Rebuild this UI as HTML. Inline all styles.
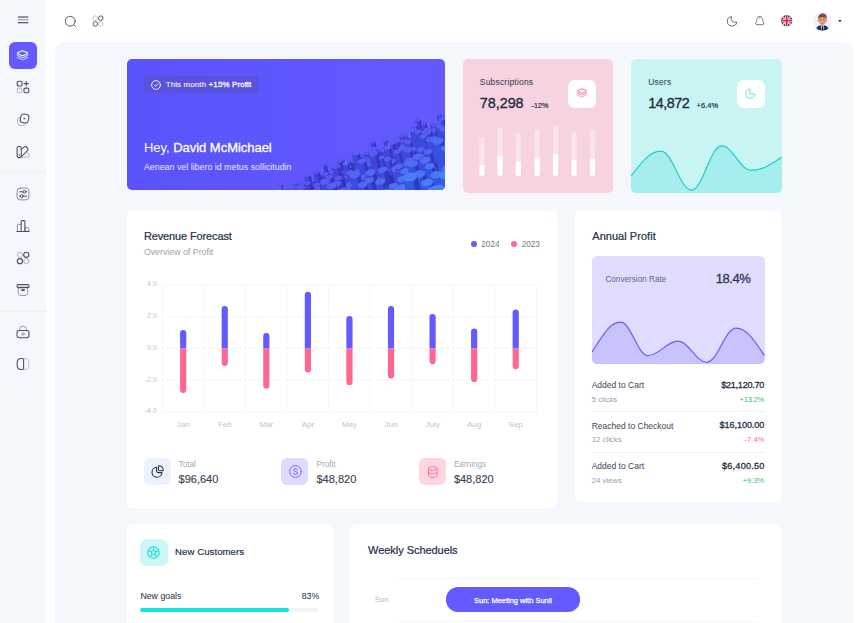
<!DOCTYPE html>
<html lang="en"><head><meta charset="utf-8"><title>Dashboard</title>
<style>
*{box-sizing:border-box;margin:0;padding:0}
html,body{width:862px;height:623px;overflow:hidden;background:#fff}
body{font-family:"Liberation Sans",sans-serif;color:#1d2738;position:relative}
.abs,.t{position:absolute}
.t{white-space:nowrap;line-height:1}
svg{position:absolute;overflow:visible}
.sidebar{position:absolute;left:0;top:0;width:45.700px;height:623px;background:#f4f7fb}
.sidebar .div{position:absolute;left:0;width:45.700px;height:1px;background:#ecf0f6}
.navbtn{position:absolute;left:9.2px;width:27.5px;height:27.4px;border-radius:6px}
.navbtn.active{background:#635bff}
.header{position:absolute;left:46px;top:0;width:816px;height:42px;background:#fff}
.wrap{position:absolute;left:54.700px;top:41.600px;width:798.300px;height:600px;background:#f4f7fb;border-radius:10px 10px 0 0}
.card{position:absolute;background:#fff;border-radius:5px;overflow:hidden}
.ibox{position:absolute;width:27.5px;height:27.5px;border-radius:6.5px}
.b{-webkit-text-stroke:.32px currentColor}
.g{color:#8b97a6}
</style></head><body>
<div class="sidebar"><svg style="left:18px;top:15.5px" width="10" height="8" viewBox="0 0 10 8" stroke="#2a3444" stroke-width="1.05" stroke-linecap="round"><path d="M0.3 .9H9.9M0.3 6.7H9.9"/><path d="M0.3 3.800H9.900" opacity=".55"/></svg><div class="navbtn active" style="top:41.600px"></div><svg style="left:16.200px;top:49.800px" width="13" height="11" viewBox="0 0 13 11" fill="none" stroke="#fff" stroke-width="1.05" stroke-linejoin="round" stroke-linecap="round"><path d="M5.600 1.100Q6.500 .7 7.400 1.100L11.300 2.800Q12.200 3.300 11.300 3.800L7.400 5.500Q6.500 5.900 5.600 5.500L1.700 3.800Q.8 3.300 1.700 2.800Z"/><path d="M1.200 5.400L5.600 7.500Q6.500 7.900 7.400 7.500L11.800 5.400" opacity=".8"/><path d="M1.200 7.500L5.600 9.600Q6.500 10 7.400 9.600L11.800 7.500" opacity=".65"/></svg><svg style="left:16px;top:80.1px" width="14" height="14" viewBox="0 0 14 14" fill="none" stroke="#46505e" stroke-width="1.05" stroke-linecap="round" stroke-linejoin="round"><rect x="1.2" y="1.2" width="4.8" height="4.8" rx="1.3" stroke-width="1.1"/><path d="M10.2 1.4v4.4M8 3.6h4.4" stroke-width="1.05"/><rect x="1.2" y="8.2" width="4.6" height="4.4" rx=".8" stroke="#a9b1bc" stroke-width=".9"/><rect x="8" y="8.1" width="4.8" height="4.6" rx="1.2" stroke-width="1.1"/></svg><svg style="left:16px;top:113.2px" width="14" height="14" viewBox="0 0 14 14" fill="none" stroke="#46505e" stroke-width="1.05" stroke-linecap="round" stroke-linejoin="round"><rect x="1.6" y="4.2" width="8.2" height="8.2" rx="2.8" transform="rotate(-18 5.7 8.3)" stroke="#a9b1bc" stroke-width=".9"/><rect x="4.6" y="1.2" width="8" height="8.6" rx="2.6" transform="rotate(12 8.6 5.5)" fill="#f4f7fb" stroke-width="1.05"/><path d="M7.6 4.3l2.4 1.3-2.4 1.4z" fill="#6b7482" stroke="none"/></svg><svg style="left:16px;top:144.6px" width="14" height="14" viewBox="0 0 14 14" fill="none" stroke="#46505e" stroke-width="1.05" stroke-linecap="round" stroke-linejoin="round"><path d="M6.2 12.2h5.6a1.2 1.2 0 0 0 1.2-1.2V9a1.2 1.2 0 0 0-1.2-1.2h-1.2" stroke="#a9b1bc" stroke-width=".9"/><rect x="1.1" y="1.4" width="4.2" height="11.2" rx="1.8" stroke-width="1.05"/><path d="M5.3 4.2l3.2-2.4a1.5 1.5 0 0 1 2.1.3l1.1 1.5a1.5 1.5 0 0 1 .1 1.6L5.2 12" stroke-width="1.05"/><path d="M3.2 9.6v1" stroke-width="1"/></svg><div class="div" style="top:171.5px"></div><svg style="left:16px;top:186.5px" width="14" height="14" viewBox="0 0 14 14" fill="none" stroke="#46505e" stroke-width="1.05" stroke-linecap="round" stroke-linejoin="round"><rect x="1.1" y="1.1" width="11.8" height="11.8" rx="3.2" stroke="#7e8793" stroke-width=".95"/><path d="M3.6 4.8h3.2M10 4.8h.6M3.6 9.2h.6M7.4 9.2h3.2" stroke-width="1"/><circle cx="8.4" cy="4.8" r="1.4" stroke-width="1"/><circle cx="5.8" cy="9.2" r="1.4" stroke-width="1"/></svg><svg style="left:16px;top:218.6px" width="14" height="14" viewBox="0 0 14 14" fill="none" stroke="#46505e" stroke-width="1.05" stroke-linecap="round" stroke-linejoin="round"><path d="M1.4 12.4V6.2a.8.8 0 0 1 .8-.8h2.9M9 12.4V8.6h2.9a.8.8 0 0 1 .8.8v3" stroke="#7e8793" stroke-width=".9"/><path d="M5.2 12.4V2.6a1 1 0 0 1 1-1h1.7a1 1 0 0 1 1 1v9.800" stroke-width="1.05"/><path d="M.9 12.5h12.3" stroke-width="1.05"/></svg><svg style="left:16px;top:250.9px" width="14" height="14" viewBox="0 0 14 14" fill="none" stroke="#46505e" stroke-width="1.05" stroke-linecap="round" stroke-linejoin="round"><circle cx="3.9" cy="3.8" r="2.6" stroke="#a9b1bc" stroke-width=".9"/><circle cx="10.3" cy="3.8" r="2.6" stroke-width="1.1"/><circle cx="3.9" cy="10.2" r="2.6" stroke-width="1.1"/><circle cx="10.3" cy="10.2" r="2.6" stroke="#a9b1bc" stroke-width=".9"/></svg><svg style="left:16px;top:282.8px" width="14" height="14" viewBox="0 0 14 14" fill="none" stroke="#46505e" stroke-width="1.05" stroke-linecap="round" stroke-linejoin="round"><path d="M2.3 4.6v5.2c0 1.700 1 2.700 2.700 2.700h4c1.700 0 2.700-1 2.700-2.700V4.600" stroke="#8a939f" stroke-width=".9"/><rect x="1" y="1.500" width="12" height="3.100" rx="1.200" stroke-width="1.05" fill="#cdd3db"/><rect x="5.2" y="6.300" width="3.600" height="1.700" rx=".5" fill="#46505e" stroke="none"/></svg><div class="div" style="top:310.700px"></div><svg style="left:16px;top:324.6px" width="14" height="14" viewBox="0 0 14 14" fill="none" stroke="#46505e" stroke-width="1.05" stroke-linecap="round" stroke-linejoin="round"><path d="M3.500 5.500V4.600a3.500 3.500 0 0 1 7 0v.9" stroke="#8a939f" stroke-width=".9"/><rect x="1" y="5.500" width="12" height="7.300" rx="2.200" stroke-width="1.05"/><ellipse cx="7" cy="9.100" rx="1.500" ry="1" stroke="#8a939f" stroke-width=".9"/></svg><svg style="left:16px;top:356.7px" width="14" height="14" viewBox="0 0 14 14" fill="none" stroke="#46505e" stroke-width="1.05" stroke-linecap="round" stroke-linejoin="round"><path d="M7.600 1.500H5.200C2.600 1.500 1.200 2.900 1.200 5.500v3c0 2.600 1.400 4 4 4h2.400z" stroke-width="1.05"/><path d="M7.600 1.500h1.200c2.600 0 4 1.400 4 4v3c0 2.600-1.400 4-4 4H7.600" stroke="#a9b1bc" stroke-width=".9" stroke-dasharray="1.600 1.300"/></svg></div>
<div class="header"><svg style="left:18px;top:14.500px" width="13" height="13" viewBox="0 0 13 13" fill="none" stroke="#545e6d" stroke-width="1" stroke-linecap="round"><circle cx="6.200" cy="6.200" r="4.900"/><path d="M9.800 9.700l1.700 1.600"/></svg><svg style="left:46px;top:14.700px" width="12" height="12" viewBox="0 0 12 12" fill="none" stroke="#545e6d" stroke-width="1"><circle cx="3.300" cy="3.200" r="2.300" stroke="#b4bbc5" stroke-width=".8"/><circle cx="8.800" cy="3.200" r="2.300"/><circle cx="3.300" cy="8.900" r="2.300"/><circle cx="8.800" cy="8.900" r="2.300" stroke="#b4bbc5" stroke-width=".8"/></svg><svg style="left:680.600px;top:15.800px" width="10.500" height="10.500" viewBox="0 0 11 11" fill="none" stroke="#545e6d" stroke-width=".95" stroke-linejoin="round"><path d="M10.300 6.300A4.300 4.300 0 0 1 4.600 .600 5 5 0 1 0 10.300 6.300Z"/></svg><svg style="left:708.800px;top:15.700px" width="10" height="10" viewBox="0 0 11 11" fill="none" stroke="#545e6d" stroke-width=".95" stroke-linejoin="round" stroke-linecap="round"><path d="M5.300 .600C3.100 .600 2 2.300 2 4.100 2 6 1.500 6.700 .9 7.600c-.5 .8 .2 1.700 1.300 1.800 2.100 .300 4.100 .300 6.200 0 1.100-.100 1.800-1 1.300-1.800C9.100 6.700 8.600 6 8.600 4.100 8.600 2.300 7.500 .600 5.300 .600Z"/><path d="M5.300 2.700v.5" stroke-width=".6"/></svg><svg style="left:735.200px;top:15px" width="11.400" height="11.400" viewBox="0 0 12 12"><defs><clipPath id="fc"><circle cx="6" cy="6" r="6"/></clipPath></defs><g clip-path="url(#fc)"><rect width="12" height="12" fill="#1f2a8a"/><path d="M0 0l12 12M12 0L0 12" stroke="#fff" stroke-width="1.700"/><path d="M0 0l12 12M12 0L0 12" stroke="#e8243c" stroke-width=".6"/><path d="M6 0v12M0 6h12" stroke="#fff" stroke-width="3.200"/><path d="M6 0v12M0 6h12" stroke="#e8243c" stroke-width="1.900"/></g></svg><svg style="left:767.200px;top:11.700px" width="18.800" height="18.800" viewBox="0 0 19 19"><defs><clipPath id="ac"><circle cx="9.500" cy="9.500" r="9.500"/></clipPath></defs><circle cx="9.500" cy="9.500" r="9.500" fill="#f1f0ff"/><g clip-path="url(#ac)"><path d="M2.800 19c0-3.600 2.600-5.600 6.700-5.600s6.700 2 6.700 5.600z" fill="#22306e"/><path d="M8 13.200h3l-.5 5.800h-2z" fill="#e9edf7"/><path d="M9.100 14h.9l.5 5h-1.900z" fill="#1a2048"/><rect x="8.100" y="10.500" width="2.800" height="3.600" rx="1" fill="#d4906c"/><ellipse cx="9.500" cy="8.400" rx="3.900" ry="4.500" fill="#e3a47e"/><ellipse cx="5.500" cy="8.800" rx=".8" ry="1.200" fill="#dd9a74"/><ellipse cx="13.500" cy="8.800" rx=".8" ry="1.200" fill="#dd9a74"/><path d="M5.300 7.800C4.800 3.800 6.800 1.600 9.700 1.600s4.700 2 4.100 6.200c-.5-1.800-1.400-2.600-4.200-2.600S6 6 5.300 7.800z" fill="#80493b"/><path d="M8.500 11.300c.7 .4 1.400 .4 2 0" stroke="#8a3f3a" stroke-width=".6" fill="none"/><circle cx="7.900" cy="8.500" r=".45" fill="#3a2a2a"/><circle cx="11.100" cy="8.500" r=".45" fill="#3a2a2a"/><path d="M7.100 7.500h1.600M10.300 7.500h1.600" stroke="#5c3a30" stroke-width=".5"/></g></svg><svg style="left:792.300px;top:19.500px" width="3.800" height="2.300" viewBox="0 0 4 2.400"><path d="M0 0h4L2 2.400z" fill="#39424f"/></svg></div>
<div class="wrap"><div class="card" style="left:71.9px;top:17.0px;width:318.5px;height:131.0px;background:linear-gradient(90deg,#5a53fb,#6359ff)"><svg style="left:-.5px;top:.4px" width="319" height="131" viewBox="0 0 319 131"><defs><linearGradient id="hb" x1="0" y1="0" x2="1" y2="1"><stop offset="0" stop-color="#3f38cc"/><stop offset="1" stop-color="#2530a0"/></linearGradient></defs><path d="M166 131L319 63V131Z" fill="url(#hb)"/><g transform="translate(153.9 126.0) rotate(-12)"><path d="M-2.6 0v10.4a2.6 1.5 0 0 0 5.3 0v-10.4z" fill="#4740db"/><path d="M0.8 0v11.8a2.6 1.5 0 0 0 1.8 -1.4v-10.4z" fill="#342ab2" opacity=".62"/><ellipse cx="0" cy="0" rx="2.6" ry="1.5" fill="#5a54ee"/></g><g transform="translate(160.6 130.7) rotate(-12)"><path d="M-2.4 0v4.5a2.4 1.4 0 0 0 4.8 0v-4.5z" fill="#4541db"/><path d="M0.8 0v5.8a2.4 1.4 0 0 0 1.6 -1.3v-4.5z" fill="#322ab0" opacity=".62"/><ellipse cx="0" cy="0" rx="2.4" ry="1.4" fill="#5956ee"/></g><g transform="translate(169.8 123.9) rotate(-12)"><path d="M-2.9 0v7.1a2.9 1.7 0 0 0 5.8 0v-7.1z" fill="#4640db"/><path d="M0.9 0v8.6a2.9 1.7 0 0 0 2.0 -1.5v-7.1z" fill="#332ab1" opacity=".62"/><ellipse cx="0" cy="0" rx="2.9" ry="1.7" fill="#5955ee"/></g><g transform="translate(174.7 123.5) rotate(-12)"><path d="M-2.4 0v5.0a2.4 1.4 0 0 0 4.9 0v-5.0z" fill="#4442dc"/><path d="M0.8 0v6.3a2.4 1.4 0 0 0 1.7 -1.3v-5.0z" fill="#322aaf" opacity=".62"/><ellipse cx="0" cy="0" rx="2.4" ry="1.4" fill="#5858ee"/></g><g transform="translate(182.1 119.3) rotate(-12)"><path d="M-2.8 0v4.4a2.8 1.6 0 0 0 5.5 0v-4.4z" fill="#4442dc"/><path d="M0.9 0v5.9a2.8 1.6 0 0 0 1.9 -1.5v-4.4z" fill="#312aaf" opacity=".62"/><ellipse cx="0" cy="0" rx="2.8" ry="1.6" fill="#5858ef"/></g><g transform="translate(190.9 116.7) rotate(-12)"><path d="M-2.9 0v4.7a2.9 1.7 0 0 0 5.8 0v-4.7z" fill="#4640db"/><path d="M0.9 0v6.3a2.9 1.7 0 0 0 2.0 -1.5v-4.7z" fill="#332ab1" opacity=".62"/><ellipse cx="0" cy="0" rx="2.9" ry="1.7" fill="#5954ee"/></g><g transform="translate(198.2 106.0) rotate(-12)"><path d="M-2.6 0v12.0a2.6 1.5 0 0 0 5.2 0v-12.0z" fill="#4640db"/><path d="M0.8 0v13.4a2.6 1.5 0 0 0 1.8 -1.4v-12.0z" fill="#332ab1" opacity=".62"/><ellipse cx="0" cy="0" rx="2.6" ry="1.5" fill="#5954ee"/></g><g transform="translate(207.8 107.6) rotate(-12)"><path d="M-3.0 0v7.3a3.0 1.7 0 0 0 5.9 0v-7.3z" fill="#4541db"/><path d="M1.0 0v8.9a3.0 1.7 0 0 0 2.0 -1.6v-7.3z" fill="#322ab0" opacity=".62"/><ellipse cx="0" cy="0" rx="3.0" ry="1.7" fill="#5956ee"/></g><g transform="translate(213.5 105.4) rotate(-12)"><path d="M-2.4 0v5.3a2.4 1.4 0 0 0 4.9 0v-5.3z" fill="#4640db"/><path d="M0.8 0v6.6a2.4 1.4 0 0 0 1.7 -1.3v-5.3z" fill="#332ab1" opacity=".62"/><ellipse cx="0" cy="0" rx="2.4" ry="1.4" fill="#5955ee"/></g><g transform="translate(222.2 103.0) rotate(-12)"><path d="M-2.7 0v5.6a2.7 1.6 0 0 0 5.4 0v-5.6z" fill="#4442dc"/><path d="M0.9 0v7.1a2.7 1.6 0 0 0 1.8 -1.4v-5.6z" fill="#322aaf" opacity=".62"/><ellipse cx="0" cy="0" rx="2.7" ry="1.6" fill="#5858ee"/></g><g transform="translate(232.0 97.5) rotate(-12)"><path d="M-2.6 0v4.4a2.6 1.5 0 0 0 5.1 0v-4.4z" fill="#4640db"/><path d="M0.8 0v5.7a2.6 1.5 0 0 0 1.7 -1.4v-4.4z" fill="#332ab1" opacity=".62"/><ellipse cx="0" cy="0" rx="2.6" ry="1.5" fill="#5954ee"/></g><g transform="translate(240.0 94.5) rotate(-12)"><path d="M-2.7 0v6.7a2.7 1.6 0 0 0 5.4 0v-6.7z" fill="#4640db"/><path d="M0.9 0v8.2a2.7 1.6 0 0 0 1.8 -1.4v-6.7z" fill="#332ab1" opacity=".62"/><ellipse cx="0" cy="0" rx="2.7" ry="1.6" fill="#5954ee"/></g><g transform="translate(246.9 83.2) rotate(-12)"><path d="M-2.6 0v14.5a2.6 1.5 0 0 0 5.2 0v-14.5z" fill="#4640db"/><path d="M0.8 0v15.8a2.6 1.5 0 0 0 1.8 -1.4v-14.5z" fill="#332ab1" opacity=".62"/><ellipse cx="0" cy="0" rx="2.6" ry="1.5" fill="#5955ee"/></g><g transform="translate(253.0 90.2) rotate(-12)"><path d="M-3.0 0v5.3a3.0 1.8 0 0 0 6.0 0v-5.3z" fill="#4442dc"/><path d="M1.0 0v6.9a3.0 1.8 0 0 0 2.1 -1.6v-5.3z" fill="#322aaf" opacity=".62"/><ellipse cx="0" cy="0" rx="3.0" ry="1.8" fill="#5858ee"/></g><g transform="translate(259.5 81.5) rotate(-12)"><path d="M-2.4 0v8.5a2.4 1.4 0 0 0 4.9 0v-8.5z" fill="#4541db"/><path d="M0.8 0v9.8a2.4 1.4 0 0 0 1.7 -1.3v-8.5z" fill="#332ab0" opacity=".62"/><ellipse cx="0" cy="0" rx="2.4" ry="1.4" fill="#5956ee"/></g><g transform="translate(267.8 83.4) rotate(-12)"><path d="M-2.8 0v4.4a2.8 1.6 0 0 0 5.5 0v-4.4z" fill="#4541db"/><path d="M0.9 0v5.9a2.8 1.6 0 0 0 1.9 -1.5v-4.4z" fill="#332ab0" opacity=".62"/><ellipse cx="0" cy="0" rx="2.8" ry="1.6" fill="#5956ee"/></g><g transform="translate(275.9 76.5) rotate(-12)"><path d="M-2.9 0v6.5a2.9 1.7 0 0 0 5.8 0v-6.5z" fill="#4640db"/><path d="M0.9 0v8.0a2.9 1.7 0 0 0 2.0 -1.5v-6.5z" fill="#332ab1" opacity=".62"/><ellipse cx="0" cy="0" rx="2.9" ry="1.7" fill="#5955ee"/></g><g transform="translate(282.0 75.6) rotate(-12)"><path d="M-2.6 0v4.9a2.6 1.5 0 0 0 5.2 0v-4.9z" fill="#4343dc"/><path d="M0.8 0v6.3a2.6 1.5 0 0 0 1.8 -1.4v-4.9z" fill="#312aae" opacity=".62"/><ellipse cx="0" cy="0" rx="2.6" ry="1.5" fill="#575aef"/></g><g transform="translate(291.6 60.6) rotate(-12)"><path d="M-3.1 0v16.0a3.1 1.8 0 0 0 6.2 0v-16.0z" fill="#4541db"/><path d="M1.0 0v17.6a3.1 1.8 0 0 0 2.1 -1.7v-16.0z" fill="#322ab0" opacity=".62"/><ellipse cx="0" cy="0" rx="3.1" ry="1.8" fill="#5856ee"/></g><g transform="translate(297.8 64.8) rotate(-12)"><path d="M-2.9 0v10.8a2.9 1.7 0 0 0 5.8 0v-10.8z" fill="#4541db"/><path d="M0.9 0v12.3a2.9 1.7 0 0 0 2.0 -1.5v-10.8z" fill="#322ab0" opacity=".62"/><ellipse cx="0" cy="0" rx="2.9" ry="1.7" fill="#5856ee"/></g><g transform="translate(305.7 64.9) rotate(-12)"><path d="M-2.6 0v5.2a2.6 1.5 0 0 0 5.2 0v-5.2z" fill="#4344dd"/><path d="M0.8 0v6.6a2.6 1.5 0 0 0 1.8 -1.4v-5.2z" fill="#302aae" opacity=".62"/><ellipse cx="0" cy="0" rx="2.6" ry="1.5" fill="#575aef"/></g><g transform="translate(312.7 55.8) rotate(-12)"><path d="M-2.4 0v11.5a2.4 1.4 0 0 0 4.9 0v-11.5z" fill="#4541db"/><path d="M0.8 0v12.8a2.4 1.4 0 0 0 1.7 -1.3v-11.5z" fill="#322ab0" opacity=".62"/><ellipse cx="0" cy="0" rx="2.4" ry="1.4" fill="#5857ee"/></g><g transform="translate(319.9 56.3) rotate(-12)"><path d="M-2.9 0v7.7a2.9 1.7 0 0 0 5.8 0v-7.7z" fill="#4541db"/><path d="M0.9 0v9.3a2.9 1.7 0 0 0 2.0 -1.5v-7.7z" fill="#322ab0" opacity=".62"/><ellipse cx="0" cy="0" rx="2.9" ry="1.7" fill="#5857ee"/></g><g transform="translate(327.0 58.0) rotate(-12)"><path d="M-2.8 0v5.1a2.8 1.6 0 0 0 5.6 0v-5.1z" fill="#4640db"/><path d="M0.9 0v6.6a2.8 1.6 0 0 0 1.9 -1.5v-5.1z" fill="#332ab1" opacity=".62"/><ellipse cx="0" cy="0" rx="2.8" ry="1.6" fill="#5955ee"/></g><g transform="translate(335.7 49.3) rotate(-12)"><path d="M-2.5 0v7.6a2.5 1.5 0 0 0 5.0 0v-7.6z" fill="#4640db"/><path d="M0.8 0v8.9a2.5 1.5 0 0 0 1.7 -1.3v-7.6z" fill="#332ab1" opacity=".62"/><ellipse cx="0" cy="0" rx="2.5" ry="1.5" fill="#5955ee"/></g><g transform="translate(344.4 47.4) rotate(-12)"><path d="M-2.5 0v5.9a2.5 1.5 0 0 0 5.1 0v-5.9z" fill="#4640db"/><path d="M0.8 0v7.2a2.5 1.5 0 0 0 1.7 -1.3v-5.9z" fill="#332ab1" opacity=".62"/><ellipse cx="0" cy="0" rx="2.5" ry="1.5" fill="#5955ee"/></g><g transform="translate(158.0 134.7) rotate(-12)"><path d="M-2.8 0v5.3a2.8 1.6 0 0 0 5.5 0v-5.3z" fill="#4740db"/><path d="M0.9 0v6.8a2.8 1.6 0 0 0 1.9 -1.5v-5.3z" fill="#342ab2" opacity=".62"/><ellipse cx="0" cy="0" rx="2.8" ry="1.6" fill="#5a54ee"/></g><g transform="translate(167.8 128.6) rotate(-12)"><path d="M-2.7 0v5.9a2.7 1.6 0 0 0 5.4 0v-5.9z" fill="#4541db"/><path d="M0.9 0v7.3a2.7 1.6 0 0 0 1.8 -1.4v-5.9z" fill="#322ab0" opacity=".62"/><ellipse cx="0" cy="0" rx="2.7" ry="1.6" fill="#5857ee"/></g><g transform="translate(175.6 125.0) rotate(-12)"><path d="M-3.0 0v5.9a3.0 1.8 0 0 0 6.1 0v-5.9z" fill="#4442dc"/><path d="M1.0 0v7.5a3.0 1.8 0 0 0 2.1 -1.6v-5.9z" fill="#312aaf" opacity=".62"/><ellipse cx="0" cy="0" rx="3.0" ry="1.8" fill="#5858ef"/></g><g transform="translate(185.8 121.2) rotate(-12)"><path d="M-3.4 0v5.4a3.4 2.0 0 0 0 6.7 0v-5.4z" fill="#4640db"/><path d="M1.1 0v7.2a3.4 2.0 0 0 0 2.3 -1.8v-5.4z" fill="#332ab1" opacity=".62"/><ellipse cx="0" cy="0" rx="3.4" ry="2.0" fill="#5955ee"/></g><g transform="translate(192.0 115.4) rotate(-12)"><path d="M-2.9 0v8.5a2.9 1.7 0 0 0 5.9 0v-8.5z" fill="#4740db"/><path d="M0.9 0v10.0a2.9 1.7 0 0 0 2.0 -1.6v-8.5z" fill="#342ab2" opacity=".62"/><ellipse cx="0" cy="0" rx="2.9" ry="1.7" fill="#5a54ee"/></g><g transform="translate(199.4 114.9) rotate(-12)"><path d="M-3.0 0v6.0a3.0 1.8 0 0 0 6.1 0v-6.0z" fill="#4442dc"/><path d="M1.0 0v7.6a3.0 1.8 0 0 0 2.1 -1.6v-6.0z" fill="#312aaf" opacity=".62"/><ellipse cx="0" cy="0" rx="3.0" ry="1.8" fill="#5858ef"/></g><g transform="translate(206.9 113.0) rotate(-12)"><path d="M-3.4 0v6.1a3.4 2.0 0 0 0 6.8 0v-6.1z" fill="#4442dc"/><path d="M1.1 0v7.9a3.4 2.0 0 0 0 2.3 -1.8v-6.1z" fill="#322aaf" opacity=".62"/><ellipse cx="0" cy="0" rx="3.4" ry="2.0" fill="#5858ee"/></g><g transform="translate(216.2 100.2) rotate(-12)"><path d="M-2.7 0v14.0a2.7 1.6 0 0 0 5.3 0v-14.0z" fill="#4442dc"/><path d="M0.9 0v15.4a2.7 1.6 0 0 0 1.8 -1.4v-14.0z" fill="#312aaf" opacity=".62"/><ellipse cx="0" cy="0" rx="2.7" ry="1.6" fill="#5858ef"/></g><g transform="translate(221.8 102.5) rotate(-12)"><path d="M-3.2 0v10.1a3.2 1.9 0 0 0 6.3 0v-10.1z" fill="#4343dc"/><path d="M1.0 0v11.8a3.2 1.9 0 0 0 2.2 -1.7v-10.1z" fill="#312aaf" opacity=".62"/><ellipse cx="0" cy="0" rx="3.2" ry="1.9" fill="#5759ef"/></g><g transform="translate(231.3 101.1) rotate(-12)"><path d="M-3.0 0v6.6a3.0 1.7 0 0 0 5.9 0v-6.6z" fill="#4640db"/><path d="M0.9 0v8.1a3.0 1.7 0 0 0 2.0 -1.6v-6.6z" fill="#332ab1" opacity=".62"/><ellipse cx="0" cy="0" rx="3.0" ry="1.7" fill="#5954ee"/></g><g transform="translate(240.7 99.4) rotate(-12)"><path d="M-2.6 0v5.3a2.6 1.5 0 0 0 5.2 0v-5.3z" fill="#4640db"/><path d="M0.8 0v6.7a2.6 1.5 0 0 0 1.8 -1.4v-5.3z" fill="#332ab1" opacity=".62"/><ellipse cx="0" cy="0" rx="2.6" ry="1.5" fill="#5954ee"/></g><g transform="translate(249.9 94.9) rotate(-12)"><path d="M-3.2 0v5.4a3.2 1.9 0 0 0 6.4 0v-5.4z" fill="#4442dc"/><path d="M1.0 0v7.1a3.2 1.9 0 0 0 2.2 -1.7v-5.4z" fill="#322aaf" opacity=".62"/><ellipse cx="0" cy="0" rx="3.2" ry="1.9" fill="#5858ee"/></g><g transform="translate(258.8 91.6) rotate(-12)"><path d="M-2.9 0v4.9a2.9 1.7 0 0 0 5.7 0v-4.9z" fill="#4542dc"/><path d="M0.9 0v6.4a2.9 1.7 0 0 0 1.9 -1.5v-4.9z" fill="#322ab0" opacity=".62"/><ellipse cx="0" cy="0" rx="2.9" ry="1.7" fill="#5857ee"/></g><g transform="translate(267.7 87.7) rotate(-12)"><path d="M-2.9 0v4.8a2.9 1.7 0 0 0 5.8 0v-4.8z" fill="#4343dc"/><path d="M0.9 0v6.3a2.9 1.7 0 0 0 2.0 -1.5v-4.8z" fill="#312aaf" opacity=".62"/><ellipse cx="0" cy="0" rx="2.9" ry="1.7" fill="#5759ef"/></g><g transform="translate(276.6 82.4) rotate(-12)"><path d="M-3.1 0v5.2a3.1 1.8 0 0 0 6.2 0v-5.2z" fill="#4542dc"/><path d="M1.0 0v6.9a3.1 1.8 0 0 0 2.1 -1.6v-5.2z" fill="#322ab0" opacity=".62"/><ellipse cx="0" cy="0" rx="3.1" ry="1.8" fill="#5857ee"/></g><g transform="translate(283.9 77.2) rotate(-12)"><path d="M-2.6 0v7.4a2.6 1.5 0 0 0 5.2 0v-7.4z" fill="#4443dc"/><path d="M0.8 0v8.7a2.6 1.5 0 0 0 1.8 -1.4v-7.4z" fill="#312aaf" opacity=".62"/><ellipse cx="0" cy="0" rx="2.6" ry="1.5" fill="#5759ef"/></g><g transform="translate(293.3 74.2) rotate(-12)"><path d="M-3.2 0v7.1a3.2 1.9 0 0 0 6.4 0v-7.1z" fill="#4343dc"/><path d="M1.0 0v8.7a3.2 1.9 0 0 0 2.2 -1.7v-7.1z" fill="#302aae" opacity=".62"/><ellipse cx="0" cy="0" rx="3.2" ry="1.9" fill="#575aef"/></g><g transform="translate(300.7 70.5) rotate(-12)"><path d="M-2.9 0v6.6a2.9 1.7 0 0 0 5.9 0v-6.6z" fill="#4442dc"/><path d="M0.9 0v8.2a2.9 1.7 0 0 0 2.0 -1.6v-6.6z" fill="#312aaf" opacity=".62"/><ellipse cx="0" cy="0" rx="2.9" ry="1.7" fill="#5858ef"/></g><g transform="translate(308.5 66.6) rotate(-12)"><path d="M-2.6 0v7.6a2.6 1.5 0 0 0 5.1 0v-7.6z" fill="#4541db"/><path d="M0.8 0v9.0a2.6 1.5 0 0 0 1.7 -1.4v-7.6z" fill="#322ab0" opacity=".62"/><ellipse cx="0" cy="0" rx="2.6" ry="1.5" fill="#5856ee"/></g><g transform="translate(317.8 62.7) rotate(-12)"><path d="M-3.2 0v5.9a3.2 1.9 0 0 0 6.3 0v-5.9z" fill="#4343dc"/><path d="M1.0 0v7.5a3.2 1.9 0 0 0 2.1 -1.7v-5.9z" fill="#312aaf" opacity=".62"/><ellipse cx="0" cy="0" rx="3.2" ry="1.9" fill="#5759ef"/></g><g transform="translate(326.3 53.7) rotate(-12)"><path d="M-2.8 0v13.2a2.8 1.6 0 0 0 5.5 0v-13.2z" fill="#4541db"/><path d="M0.9 0v14.7a2.8 1.6 0 0 0 1.9 -1.5v-13.2z" fill="#322ab0" opacity=".62"/><ellipse cx="0" cy="0" rx="2.8" ry="1.6" fill="#5856ee"/></g><g transform="translate(332.5 54.3) rotate(-12)"><path d="M-2.7 0v9.2a2.7 1.6 0 0 0 5.4 0v-9.2z" fill="#4344dd"/><path d="M0.9 0v10.6a2.7 1.6 0 0 0 1.8 -1.4v-9.2z" fill="#302aae" opacity=".62"/><ellipse cx="0" cy="0" rx="2.7" ry="1.6" fill="#575aef"/></g><g transform="translate(341.0 50.6) rotate(-12)"><path d="M-2.9 0v9.1a2.9 1.7 0 0 0 5.9 0v-9.1z" fill="#4442dc"/><path d="M0.9 0v10.7a2.9 1.7 0 0 0 2.0 -1.6v-9.1z" fill="#312aaf" opacity=".62"/><ellipse cx="0" cy="0" rx="2.9" ry="1.7" fill="#5858ef"/></g><g transform="translate(155.3 131.1) rotate(-12)"><path d="M-3.2 0v12.3a3.2 1.9 0 0 0 6.4 0v-12.3z" fill="#4442dc"/><path d="M1.0 0v14.0a3.2 1.9 0 0 0 2.2 -1.7v-12.3z" fill="#322aaf" opacity=".62"/><ellipse cx="0" cy="0" rx="3.2" ry="1.9" fill="#5858ee"/></g><g transform="translate(166.1 130.1) rotate(-12)"><path d="M-3.6 0v10.3a3.6 2.1 0 0 0 7.2 0v-10.3z" fill="#4542dc"/><path d="M1.2 0v12.2a3.6 2.1 0 0 0 2.5 -1.9v-10.3z" fill="#322ab0" opacity=".62"/><ellipse cx="0" cy="0" rx="3.6" ry="2.1" fill="#5857ee"/></g><g transform="translate(172.8 129.7) rotate(-12)"><path d="M-3.0 0v7.0a3.0 1.7 0 0 0 5.9 0v-7.0z" fill="#4541db"/><path d="M0.9 0v8.6a3.0 1.7 0 0 0 2.0 -1.6v-7.0z" fill="#322ab0" opacity=".62"/><ellipse cx="0" cy="0" rx="3.0" ry="1.7" fill="#5956ee"/></g><g transform="translate(181.3 116.4) rotate(-12)"><path d="M-3.2 0v17.1a3.2 1.9 0 0 0 6.4 0v-17.1z" fill="#4443dc"/><path d="M1.0 0v18.8a3.2 1.9 0 0 0 2.2 -1.7v-17.1z" fill="#312aaf" opacity=".62"/><ellipse cx="0" cy="0" rx="3.2" ry="1.9" fill="#5759ef"/></g><g transform="translate(190.3 113.1) rotate(-12)"><path d="M-3.1 0v17.5a3.1 1.8 0 0 0 6.3 0v-17.5z" fill="#4541db"/><path d="M1.0 0v19.2a3.1 1.8 0 0 0 2.1 -1.7v-17.5z" fill="#322ab0" opacity=".62"/><ellipse cx="0" cy="0" rx="3.1" ry="1.8" fill="#5856ee"/></g><g transform="translate(196.3 122.3) rotate(-12)"><path d="M-2.7 0v5.4a2.7 1.6 0 0 0 5.5 0v-5.4z" fill="#4640db"/><path d="M0.9 0v6.9a2.7 1.6 0 0 0 1.9 -1.5v-5.4z" fill="#332ab1" opacity=".62"/><ellipse cx="0" cy="0" rx="2.7" ry="1.6" fill="#5954ee"/></g><g transform="translate(206.7 112.9) rotate(-12)"><path d="M-3.5 0v8.5a3.5 2.0 0 0 0 6.9 0v-8.5z" fill="#4442dc"/><path d="M1.1 0v10.4a3.5 2.0 0 0 0 2.4 -1.8v-8.5z" fill="#322aaf" opacity=".62"/><ellipse cx="0" cy="0" rx="3.5" ry="2.0" fill="#5858ee"/></g><g transform="translate(213.2 102.6) rotate(-12)"><path d="M-2.7 0v16.5a2.7 1.6 0 0 0 5.5 0v-16.5z" fill="#4541db"/><path d="M0.9 0v17.9a2.7 1.6 0 0 0 1.9 -1.4v-16.5z" fill="#322ab0" opacity=".62"/><ellipse cx="0" cy="0" rx="2.7" ry="1.6" fill="#5857ee"/></g><g transform="translate(223.1 107.9) rotate(-12)"><path d="M-2.7 0v5.8a2.7 1.6 0 0 0 5.5 0v-5.8z" fill="#4541db"/><path d="M0.9 0v7.3a2.7 1.6 0 0 0 1.9 -1.5v-5.8z" fill="#322ab0" opacity=".62"/><ellipse cx="0" cy="0" rx="2.7" ry="1.6" fill="#5956ee"/></g><g transform="translate(232.6 97.2) rotate(-12)"><path d="M-3.3 0v13.9a3.3 2.0 0 0 0 6.7 0v-13.9z" fill="#4541db"/><path d="M1.1 0v15.7a3.3 2.0 0 0 0 2.3 -1.8v-13.9z" fill="#322ab0" opacity=".62"/><ellipse cx="0" cy="0" rx="3.3" ry="2.0" fill="#5857ee"/></g><g transform="translate(243.3 101.3) rotate(-12)"><path d="M-2.9 0v5.2a2.9 1.7 0 0 0 5.8 0v-5.2z" fill="#4542dc"/><path d="M0.9 0v6.7a2.9 1.7 0 0 0 2.0 -1.5v-5.2z" fill="#322ab0" opacity=".62"/><ellipse cx="0" cy="0" rx="2.9" ry="1.7" fill="#5857ee"/></g><g transform="translate(250.4 92.6) rotate(-12)"><path d="M-3.2 0v8.8a3.2 1.9 0 0 0 6.3 0v-8.8z" fill="#4343dc"/><path d="M1.0 0v10.5a3.2 1.9 0 0 0 2.1 -1.7v-8.8z" fill="#312aaf" opacity=".62"/><ellipse cx="0" cy="0" rx="3.2" ry="1.9" fill="#5759ef"/></g><g transform="translate(259.7 88.3) rotate(-12)"><path d="M-3.0 0v9.8a3.0 1.8 0 0 0 6.1 0v-9.8z" fill="#4442dc"/><path d="M1.0 0v11.4a3.0 1.8 0 0 0 2.1 -1.6v-9.8z" fill="#322aaf" opacity=".62"/><ellipse cx="0" cy="0" rx="3.0" ry="1.8" fill="#5858ee"/></g><g transform="translate(269.7 82.8) rotate(-12)"><path d="M-3.4 0v11.9a3.4 2.0 0 0 0 6.9 0v-11.9z" fill="#4344dd"/><path d="M1.1 0v13.7a3.4 2.0 0 0 0 2.3 -1.8v-11.9z" fill="#302bae" opacity=".62"/><ellipse cx="0" cy="0" rx="3.4" ry="2.0" fill="#565bef"/></g><g transform="translate(278.7 81.8) rotate(-12)"><path d="M-2.8 0v9.9a2.8 1.6 0 0 0 5.6 0v-9.9z" fill="#4344dd"/><path d="M0.9 0v11.4a2.8 1.6 0 0 0 1.9 -1.5v-9.9z" fill="#302bae" opacity=".62"/><ellipse cx="0" cy="0" rx="2.8" ry="1.6" fill="#565bef"/></g><g transform="translate(288.6 66.3) rotate(-12)"><path d="M-3.1 0v18.8a3.1 1.8 0 0 0 6.3 0v-18.8z" fill="#4245dd"/><path d="M1.0 0v20.4a3.1 1.8 0 0 0 2.1 -1.7v-18.8z" fill="#2f2bad" opacity=".62"/><ellipse cx="0" cy="0" rx="3.1" ry="1.8" fill="#565df0"/></g><g transform="translate(298.0 73.2) rotate(-12)"><path d="M-3.2 0v8.5a3.2 1.9 0 0 0 6.5 0v-8.5z" fill="#4343dc"/><path d="M1.0 0v10.2a3.2 1.9 0 0 0 2.2 -1.7v-8.5z" fill="#312aae" opacity=".62"/><ellipse cx="0" cy="0" rx="3.2" ry="1.9" fill="#575aef"/></g><g transform="translate(307.6 71.3) rotate(-12)"><path d="M-3.1 0v7.8a3.1 1.9 0 0 0 6.3 0v-7.8z" fill="#4146de"/><path d="M1.0 0v9.5a3.1 1.9 0 0 0 2.1 -1.7v-7.8z" fill="#2f2bac" opacity=".62"/><ellipse cx="0" cy="0" rx="3.1" ry="1.9" fill="#555ef0"/></g><g transform="translate(315.6 60.1) rotate(-12)"><path d="M-3.5 0v14.8a3.5 2.0 0 0 0 7.0 0v-14.8z" fill="#4245dd"/><path d="M1.1 0v16.7a3.5 2.0 0 0 0 2.4 -1.8v-14.8z" fill="#2f2bad" opacity=".62"/><ellipse cx="0" cy="0" rx="3.5" ry="2.0" fill="#565df0"/></g><g transform="translate(325.8 47.8) rotate(-12)"><path d="M-3.6 0v21.2a3.6 2.1 0 0 0 7.1 0v-21.2z" fill="#4145dd"/><path d="M1.1 0v23.1a3.6 2.1 0 0 0 2.4 -1.9v-21.2z" fill="#2f2bad" opacity=".62"/><ellipse cx="0" cy="0" rx="3.6" ry="2.1" fill="#565df0"/></g><g transform="translate(336.5 58.2) rotate(-12)"><path d="M-3.5 0v7.0a3.5 2.0 0 0 0 6.9 0v-7.0z" fill="#4146de"/><path d="M1.1 0v8.9a3.5 2.0 0 0 0 2.4 -1.8v-7.0z" fill="#2f2bac" opacity=".62"/><ellipse cx="0" cy="0" rx="3.5" ry="2.0" fill="#555ef0"/></g><g transform="translate(344.6 52.9) rotate(-12)"><path d="M-3.0 0v9.7a3.0 1.8 0 0 0 6.1 0v-9.7z" fill="#4145dd"/><path d="M1.0 0v11.3a3.0 1.8 0 0 0 2.1 -1.6v-9.7z" fill="#2f2bad" opacity=".62"/><ellipse cx="0" cy="0" rx="3.0" ry="1.8" fill="#555df0"/></g><g transform="translate(173.3 128.1) rotate(-12)"><path d="M-3.8 0v12.8a3.8 2.3 0 0 0 7.7 0v-12.8z" fill="#4640db"/><path d="M1.2 0v14.8a3.8 2.3 0 0 0 2.6 -2.0v-12.8z" fill="#332ab1" opacity=".62"/><ellipse cx="0" cy="0" rx="3.8" ry="2.3" fill="#5955ee"/></g><g transform="translate(179.9 132.2) rotate(-12)"><path d="M-3.2 0v5.9a3.2 1.9 0 0 0 6.4 0v-5.9z" fill="#4640db"/><path d="M1.0 0v7.6a3.2 1.9 0 0 0 2.2 -1.7v-5.9z" fill="#332ab1" opacity=".62"/><ellipse cx="0" cy="0" rx="3.2" ry="1.9" fill="#5955ee"/></g><g transform="translate(190.7 126.1) rotate(-12)"><path d="M-3.7 0v7.2a3.7 2.2 0 0 0 7.5 0v-7.2z" fill="#4640db"/><path d="M1.2 0v9.1a3.7 2.2 0 0 0 2.5 -2.0v-7.2z" fill="#332ab1" opacity=".62"/><ellipse cx="0" cy="0" rx="3.7" ry="2.2" fill="#5955ee"/></g><g transform="translate(199.6 121.7) rotate(-12)"><path d="M-3.7 0v7.2a3.7 2.2 0 0 0 7.5 0v-7.2z" fill="#4343dc"/><path d="M1.2 0v9.2a3.7 2.2 0 0 0 2.5 -2.0v-7.2z" fill="#312aae" opacity=".62"/><ellipse cx="0" cy="0" rx="3.7" ry="2.2" fill="#575aef"/></g><g transform="translate(209.9 107.6) rotate(-12)"><path d="M-3.9 0v18.2a3.9 2.3 0 0 0 7.7 0v-18.2z" fill="#4443dc"/><path d="M1.2 0v20.3a3.9 2.3 0 0 0 2.6 -2.0v-18.2z" fill="#312aaf" opacity=".62"/><ellipse cx="0" cy="0" rx="3.9" ry="2.3" fill="#5759ef"/></g><g transform="translate(220.1 112.5) rotate(-12)"><path d="M-3.4 0v7.0a3.4 2.0 0 0 0 6.9 0v-7.0z" fill="#4343dc"/><path d="M1.1 0v8.8a3.4 2.0 0 0 0 2.3 -1.8v-7.0z" fill="#312aaf" opacity=".62"/><ellipse cx="0" cy="0" rx="3.4" ry="2.0" fill="#5759ef"/></g><g transform="translate(229.5 94.2) rotate(-12)"><path d="M-3.9 0v20.6a3.9 2.3 0 0 0 7.7 0v-20.6z" fill="#4245dd"/><path d="M1.2 0v22.6a3.9 2.3 0 0 0 2.6 -2.0v-20.6z" fill="#2f2bad" opacity=".62"/><ellipse cx="0" cy="0" rx="3.9" ry="2.3" fill="#565cf0"/></g><g transform="translate(238.4 105.3) rotate(-12)"><path d="M-3.5 0v7.9a3.5 2.0 0 0 0 6.9 0v-7.9z" fill="#4542dc"/><path d="M1.1 0v9.7a3.5 2.0 0 0 0 2.3 -1.8v-7.9z" fill="#322ab0" opacity=".62"/><ellipse cx="0" cy="0" rx="3.5" ry="2.0" fill="#5857ee"/></g><g transform="translate(248.3 90.0) rotate(-12)"><path d="M-3.4 0v16.7a3.4 2.0 0 0 0 6.9 0v-16.7z" fill="#4344dd"/><path d="M1.1 0v18.5a3.4 2.0 0 0 0 2.3 -1.8v-16.7z" fill="#302aae" opacity=".62"/><ellipse cx="0" cy="0" rx="3.4" ry="2.0" fill="#575bef"/></g><g transform="translate(257.9 91.2) rotate(-12)"><path d="M-3.2 0v13.8a3.2 1.9 0 0 0 6.3 0v-13.8z" fill="#4344dd"/><path d="M1.0 0v15.5a3.2 1.9 0 0 0 2.1 -1.7v-13.8z" fill="#302aae" opacity=".62"/><ellipse cx="0" cy="0" rx="3.2" ry="1.9" fill="#575aef"/></g><g transform="translate(265.5 84.0) rotate(-12)"><path d="M-3.7 0v16.2a3.7 2.2 0 0 0 7.4 0v-16.2z" fill="#4343dc"/><path d="M1.2 0v18.2a3.7 2.2 0 0 0 2.5 -2.0v-16.2z" fill="#312aae" opacity=".62"/><ellipse cx="0" cy="0" rx="3.7" ry="2.2" fill="#575aef"/></g><g transform="translate(276.7 87.1) rotate(-12)"><path d="M-3.1 0v7.9a3.1 1.8 0 0 0 6.2 0v-7.9z" fill="#4344dd"/><path d="M1.0 0v9.5a3.1 1.8 0 0 0 2.1 -1.6v-7.9z" fill="#302aae" opacity=".62"/><ellipse cx="0" cy="0" rx="3.1" ry="1.8" fill="#575bef"/></g><g transform="translate(287.3 70.9) rotate(-12)"><path d="M-3.7 0v18.9a3.7 2.2 0 0 0 7.4 0v-18.9z" fill="#4146de"/><path d="M1.2 0v20.9a3.7 2.2 0 0 0 2.5 -1.9v-18.9z" fill="#2f2bac" opacity=".62"/><ellipse cx="0" cy="0" rx="3.7" ry="2.2" fill="#555ef0"/></g><g transform="translate(293.7 74.5) rotate(-12)"><path d="M-3.6 0v12.8a3.6 2.1 0 0 0 7.2 0v-12.8z" fill="#4146de"/><path d="M1.1 0v14.7a3.6 2.1 0 0 0 2.4 -1.9v-12.8z" fill="#2e2bac" opacity=".62"/><ellipse cx="0" cy="0" rx="3.6" ry="2.1" fill="#555ff0"/></g><g transform="translate(302.8 71.5) rotate(-12)"><path d="M-3.0 0v12.9a3.0 1.8 0 0 0 6.0 0v-12.9z" fill="#4245dd"/><path d="M1.0 0v14.5a3.0 1.8 0 0 0 2.0 -1.6v-12.9z" fill="#2f2bad" opacity=".62"/><ellipse cx="0" cy="0" rx="3.0" ry="1.8" fill="#565cf0"/></g><g transform="translate(312.4 64.0) rotate(-12)"><path d="M-3.1 0v15.9a3.1 1.8 0 0 0 6.3 0v-15.9z" fill="#4146de"/><path d="M1.0 0v17.6a3.1 1.8 0 0 0 2.1 -1.7v-15.9z" fill="#2f2bac" opacity=".62"/><ellipse cx="0" cy="0" rx="3.1" ry="1.8" fill="#555ef0"/></g><g transform="translate(321.6 69.3) rotate(-12)"><path d="M-3.3 0v6.4a3.3 1.9 0 0 0 6.5 0v-6.4z" fill="#4047de"/><path d="M1.0 0v8.1a3.3 1.9 0 0 0 2.2 -1.7v-6.4z" fill="#2e2bab" opacity=".62"/><ellipse cx="0" cy="0" rx="3.3" ry="1.9" fill="#5460f0"/></g><g transform="translate(330.7 58.2) rotate(-12)"><path d="M-3.1 0v12.7a3.1 1.8 0 0 0 6.2 0v-12.7z" fill="#4145dd"/><path d="M1.0 0v14.4a3.1 1.8 0 0 0 2.1 -1.6v-12.7z" fill="#2f2bad" opacity=".62"/><ellipse cx="0" cy="0" rx="3.1" ry="1.8" fill="#555df0"/></g><g transform="translate(340.6 59.8) rotate(-12)"><path d="M-3.7 0v7.9a3.7 2.2 0 0 0 7.5 0v-7.9z" fill="#4245dd"/><path d="M1.2 0v9.8a3.7 2.2 0 0 0 2.5 -2.0v-7.9z" fill="#2f2bad" opacity=".62"/><ellipse cx="0" cy="0" rx="3.7" ry="2.2" fill="#565df0"/></g><g transform="translate(152.1 129.7) rotate(-12)"><path d="M-4.1 0v24.4a4.1 2.4 0 0 0 8.2 0v-24.4z" fill="#4344dd"/><path d="M1.3 0v26.6a4.1 2.4 0 0 0 2.8 -2.2v-24.4z" fill="#302aae" opacity=".62"/><ellipse cx="0" cy="0" rx="4.1" ry="2.4" fill="#575bef"/></g><g transform="translate(171.0 133.2) rotate(-12)"><path d="M-3.2 0v12.4a3.2 1.9 0 0 0 6.4 0v-12.4z" fill="#4442dc"/><path d="M1.0 0v14.1a3.2 1.9 0 0 0 2.2 -1.7v-12.4z" fill="#312aaf" opacity=".62"/><ellipse cx="0" cy="0" rx="3.2" ry="1.9" fill="#5858ef"/></g><g transform="translate(181.5 124.2) rotate(-12)"><path d="M-3.2 0v18.4a3.2 1.9 0 0 0 6.4 0v-18.4z" fill="#4442dc"/><path d="M1.0 0v20.1a3.2 1.9 0 0 0 2.2 -1.7v-18.4z" fill="#312aaf" opacity=".62"/><ellipse cx="0" cy="0" rx="3.2" ry="1.9" fill="#5858ef"/></g><g transform="translate(191.6 129.8) rotate(-12)"><path d="M-3.3 0v6.0a3.3 1.9 0 0 0 6.6 0v-6.0z" fill="#4245dd"/><path d="M1.1 0v7.8a3.3 1.9 0 0 0 2.2 -1.7v-6.0z" fill="#2f2bad" opacity=".62"/><ellipse cx="0" cy="0" rx="3.3" ry="1.9" fill="#565df0"/></g><g transform="translate(202.6 127.7) rotate(-12)"><path d="M-3.2 0v6.2a3.2 1.9 0 0 0 6.4 0v-6.2z" fill="#4244dd"/><path d="M1.0 0v7.9a3.2 1.9 0 0 0 2.2 -1.7v-6.2z" fill="#302bad" opacity=".62"/><ellipse cx="0" cy="0" rx="3.2" ry="1.9" fill="#565cef"/></g><g transform="translate(212.3 119.2) rotate(-12)"><path d="M-3.8 0v9.1a3.8 2.2 0 0 0 7.6 0v-9.1z" fill="#4442dc"/><path d="M1.2 0v11.2a3.8 2.2 0 0 0 2.6 -2.0v-9.1z" fill="#322ab0" opacity=".62"/><ellipse cx="0" cy="0" rx="3.8" ry="2.2" fill="#5857ee"/></g><g transform="translate(219.8 104.6) rotate(-12)"><path d="M-3.1 0v19.2a3.1 1.8 0 0 0 6.2 0v-19.2z" fill="#4245dd"/><path d="M1.0 0v20.8a3.1 1.8 0 0 0 2.1 -1.6v-19.2z" fill="#2f2bad" opacity=".62"/><ellipse cx="0" cy="0" rx="3.1" ry="1.8" fill="#565df0"/></g><g transform="translate(230.8 112.1) rotate(-12)"><path d="M-3.2 0v8.2a3.2 1.9 0 0 0 6.5 0v-8.2z" fill="#4443dc"/><path d="M1.0 0v9.9a3.2 1.9 0 0 0 2.2 -1.7v-8.2z" fill="#312aaf" opacity=".62"/><ellipse cx="0" cy="0" rx="3.2" ry="1.9" fill="#5759ef"/></g><g transform="translate(239.1 103.2) rotate(-12)"><path d="M-4.1 0v14.3a4.1 2.4 0 0 0 8.3 0v-14.3z" fill="#4443dc"/><path d="M1.3 0v16.5a4.1 2.4 0 0 0 2.8 -2.2v-14.3z" fill="#312aaf" opacity=".62"/><ellipse cx="0" cy="0" rx="4.1" ry="2.4" fill="#5759ef"/></g><g transform="translate(250.2 99.2) rotate(-12)"><path d="M-4.1 0v11.1a4.1 2.4 0 0 0 8.2 0v-11.1z" fill="#4245dd"/><path d="M1.3 0v13.3a4.1 2.4 0 0 0 2.8 -2.2v-11.1z" fill="#2f2bad" opacity=".62"/><ellipse cx="0" cy="0" rx="4.1" ry="2.4" fill="#565cf0"/></g><g transform="translate(261.4 88.8) rotate(-12)"><path d="M-3.6 0v17.5a3.6 2.1 0 0 0 7.2 0v-17.5z" fill="#4244dd"/><path d="M1.1 0v19.4a3.6 2.1 0 0 0 2.4 -1.9v-17.5z" fill="#302bad" opacity=".62"/><ellipse cx="0" cy="0" rx="3.6" ry="2.1" fill="#565cef"/></g><g transform="translate(270.7 95.6) rotate(-12)"><path d="M-3.1 0v7.4a3.1 1.8 0 0 0 6.2 0v-7.4z" fill="#4047de"/><path d="M1.0 0v9.0a3.1 1.8 0 0 0 2.1 -1.6v-7.4z" fill="#2e2bab" opacity=".62"/><ellipse cx="0" cy="0" rx="3.1" ry="1.8" fill="#5460f0"/></g><g transform="translate(282.2 83.0) rotate(-12)"><path d="M-3.6 0v13.7a3.6 2.1 0 0 0 7.1 0v-13.7z" fill="#4145dd"/><path d="M1.1 0v15.6a3.6 2.1 0 0 0 2.4 -1.9v-13.7z" fill="#2f2bad" opacity=".62"/><ellipse cx="0" cy="0" rx="3.6" ry="2.1" fill="#555df0"/></g><g transform="translate(292.0 72.7) rotate(-12)"><path d="M-3.3 0v19.7a3.3 1.9 0 0 0 6.5 0v-19.7z" fill="#4047de"/><path d="M1.0 0v21.5a3.3 1.9 0 0 0 2.2 -1.7v-19.7z" fill="#2e2bab" opacity=".62"/><ellipse cx="0" cy="0" rx="3.3" ry="1.9" fill="#5461f0"/></g><g transform="translate(301.2 73.7) rotate(-12)"><path d="M-3.9 0v16.8a3.9 2.3 0 0 0 7.9 0v-16.8z" fill="#4146de"/><path d="M1.3 0v18.9a3.9 2.3 0 0 0 2.7 -2.1v-16.8z" fill="#2f2bac" opacity=".62"/><ellipse cx="0" cy="0" rx="3.9" ry="2.3" fill="#555ef0"/></g><g transform="translate(313.5 67.2) rotate(-12)"><path d="M-3.5 0v17.1a3.5 2.1 0 0 0 7.0 0v-17.1z" fill="#4047de"/><path d="M1.1 0v19.0a3.5 2.1 0 0 0 2.4 -1.9v-17.1z" fill="#2e2bab" opacity=".62"/><ellipse cx="0" cy="0" rx="3.5" ry="2.1" fill="#5460f0"/></g><g transform="translate(323.1 73.0) rotate(-12)"><path d="M-3.9 0v8.2a3.9 2.3 0 0 0 7.9 0v-8.2z" fill="#4146de"/><path d="M1.3 0v10.3a3.9 2.3 0 0 0 2.7 -2.1v-8.2z" fill="#2f2bac" opacity=".62"/><ellipse cx="0" cy="0" rx="3.9" ry="2.3" fill="#555ef0"/></g><g transform="translate(333.1 53.6) rotate(-12)"><path d="M-3.9 0v22.5a3.9 2.3 0 0 0 7.8 0v-22.5z" fill="#4146de"/><path d="M1.3 0v24.6a3.9 2.3 0 0 0 2.7 -2.1v-22.5z" fill="#2f2bac" opacity=".62"/><ellipse cx="0" cy="0" rx="3.9" ry="2.3" fill="#555ef0"/></g><g transform="translate(343.0 59.3) rotate(-12)"><path d="M-4.0 0v12.9a4.0 2.4 0 0 0 8.1 0v-12.9z" fill="#4047de"/><path d="M1.3 0v15.0a4.0 2.4 0 0 0 2.7 -2.1v-12.9z" fill="#2e2bac" opacity=".62"/><ellipse cx="0" cy="0" rx="4.0" ry="2.4" fill="#555ff0"/></g><g transform="translate(183.2 133.6) rotate(-12)"><path d="M-4.4 0v11.9a4.4 2.6 0 0 0 8.9 0v-11.9z" fill="#4344dd"/><path d="M1.4 0v14.2a4.4 2.6 0 0 0 3.0 -2.3v-11.9z" fill="#302aae" opacity=".62"/><ellipse cx="0" cy="0" rx="4.4" ry="2.6" fill="#575aef"/></g><g transform="translate(194.7 133.5) rotate(-12)"><path d="M-4.4 0v8.1a4.4 2.6 0 0 0 8.8 0v-8.1z" fill="#4343dc"/><path d="M1.4 0v10.4a4.4 2.6 0 0 0 3.0 -2.3v-8.1z" fill="#312aaf" opacity=".62"/><ellipse cx="0" cy="0" rx="4.4" ry="2.6" fill="#5759ef"/></g><g transform="translate(203.4 118.1) rotate(-12)"><path d="M-3.6 0v19.6a3.6 2.1 0 0 0 7.2 0v-19.6z" fill="#4442dc"/><path d="M1.1 0v21.5a3.6 2.1 0 0 0 2.4 -1.9v-19.6z" fill="#312aaf" opacity=".62"/><ellipse cx="0" cy="0" rx="3.6" ry="2.1" fill="#5759ef"/></g><g transform="translate(212.6 125.1) rotate(-12)"><path d="M-3.7 0v7.0a3.7 2.2 0 0 0 7.4 0v-7.0z" fill="#4344dd"/><path d="M1.2 0v8.9a3.7 2.2 0 0 0 2.5 -2.0v-7.0z" fill="#302aae" opacity=".62"/><ellipse cx="0" cy="0" rx="3.7" ry="2.2" fill="#575bef"/></g><g transform="translate(222.2 117.5) rotate(-12)"><path d="M-3.9 0v12.4a3.9 2.3 0 0 0 7.8 0v-12.4z" fill="#4344dd"/><path d="M1.3 0v14.5a3.9 2.3 0 0 0 2.7 -2.1v-12.4z" fill="#302aae" opacity=".62"/><ellipse cx="0" cy="0" rx="3.9" ry="2.3" fill="#575aef"/></g><g transform="translate(234.3 114.2) rotate(-12)"><path d="M-4.4 0v9.5a4.4 2.6 0 0 0 8.9 0v-9.5z" fill="#3f47de"/><path d="M1.4 0v11.8a4.4 2.6 0 0 0 3.0 -2.3v-9.5z" fill="#2d2bab" opacity=".62"/><ellipse cx="0" cy="0" rx="4.4" ry="2.6" fill="#5461f1"/></g><g transform="translate(245.0 104.9) rotate(-12)"><path d="M-4.0 0v12.6a4.0 2.3 0 0 0 7.9 0v-12.6z" fill="#4047de"/><path d="M1.3 0v14.7a4.0 2.3 0 0 0 2.7 -2.1v-12.6z" fill="#2e2bab" opacity=".62"/><ellipse cx="0" cy="0" rx="4.0" ry="2.3" fill="#5461f0"/></g><g transform="translate(255.0 98.6) rotate(-12)"><path d="M-3.5 0v17.1a3.5 2.0 0 0 0 6.9 0v-17.1z" fill="#4146de"/><path d="M1.1 0v18.9a3.5 2.0 0 0 0 2.4 -1.8v-17.1z" fill="#2f2bac" opacity=".62"/><ellipse cx="0" cy="0" rx="3.5" ry="2.0" fill="#555ef0"/></g><g transform="translate(265.8 102.3) rotate(-12)"><path d="M-4.0 0v7.4a4.0 2.3 0 0 0 8.0 0v-7.4z" fill="#4146de"/><path d="M1.3 0v9.5a4.0 2.3 0 0 0 2.7 -2.1v-7.4z" fill="#2e2bac" opacity=".62"/><ellipse cx="0" cy="0" rx="4.0" ry="2.3" fill="#555ff0"/></g><g transform="translate(276.4 89.0) rotate(-12)"><path d="M-3.9 0v15.7a3.9 2.3 0 0 0 7.8 0v-15.7z" fill="#4047de"/><path d="M1.2 0v17.8a3.9 2.3 0 0 0 2.6 -2.1v-15.7z" fill="#2e2bab" opacity=".62"/><ellipse cx="0" cy="0" rx="3.9" ry="2.3" fill="#5460f0"/></g><g transform="translate(286.2 90.5) rotate(-12)"><path d="M-4.0 0v9.5a4.0 2.4 0 0 0 8.1 0v-9.5z" fill="#3f48df"/><path d="M1.3 0v11.7a4.0 2.4 0 0 0 2.7 -2.1v-9.5z" fill="#2d2bab" opacity=".62"/><ellipse cx="0" cy="0" rx="4.0" ry="2.4" fill="#5461f1"/></g><g transform="translate(296.9 77.6) rotate(-12)"><path d="M-3.6 0v19.1a3.6 2.1 0 0 0 7.2 0v-19.1z" fill="#3e49df"/><path d="M1.2 0v21.1a3.6 2.1 0 0 0 2.5 -1.9v-19.1z" fill="#2c2ca9" opacity=".62"/><ellipse cx="0" cy="0" rx="3.6" ry="2.1" fill="#5364f1"/></g><g transform="translate(305.7 80.4) rotate(-12)"><path d="M-3.5 0v10.4a3.5 2.0 0 0 0 6.9 0v-10.4z" fill="#3d4ae0"/><path d="M1.1 0v12.2a3.5 2.0 0 0 0 2.4 -1.8v-10.4z" fill="#2b2ca9" opacity=".62"/><ellipse cx="0" cy="0" rx="3.5" ry="2.0" fill="#5265f2"/></g><g transform="translate(317.5 69.9) rotate(-12)"><path d="M-4.1 0v18.4a4.1 2.4 0 0 0 8.3 0v-18.4z" fill="#3d4ae0"/><path d="M1.3 0v20.6a4.1 2.4 0 0 0 2.8 -2.2v-18.4z" fill="#2c2ca9" opacity=".62"/><ellipse cx="0" cy="0" rx="4.1" ry="2.4" fill="#5265f1"/></g><g transform="translate(327.7 77.8) rotate(-12)"><path d="M-3.4 0v6.1a3.4 2.0 0 0 0 6.7 0v-6.1z" fill="#4047de"/><path d="M1.1 0v7.9a3.4 2.0 0 0 0 2.3 -1.8v-6.1z" fill="#2e2bab" opacity=".62"/><ellipse cx="0" cy="0" rx="3.4" ry="2.0" fill="#5461f0"/></g><g transform="translate(338.6 69.1) rotate(-12)"><path d="M-4.4 0v8.6a4.4 2.6 0 0 0 8.8 0v-8.6z" fill="#3f48df"/><path d="M1.4 0v10.9a4.4 2.6 0 0 0 3.0 -2.3v-8.6z" fill="#2d2bab" opacity=".62"/><ellipse cx="0" cy="0" rx="4.4" ry="2.6" fill="#5461f1"/></g><g transform="translate(174.9 128.9) rotate(-12)"><path d="M-4.3 0v25.6a4.3 2.5 0 0 0 8.6 0v-25.6z" fill="#4443dc"/><path d="M1.4 0v27.9a4.3 2.5 0 0 0 2.9 -2.3v-25.6z" fill="#312aaf" opacity=".62"/><ellipse cx="0" cy="0" rx="4.3" ry="2.5" fill="#5759ef"/></g><g transform="translate(199.2 122.9) rotate(-12)"><path d="M-4.7 0v22.6a4.7 2.8 0 0 0 9.4 0v-22.6z" fill="#4046de"/><path d="M1.5 0v25.1a4.7 2.8 0 0 0 3.2 -2.5v-22.6z" fill="#2e2bac" opacity=".62"/><ellipse cx="0" cy="0" rx="4.7" ry="2.8" fill="#555ff0"/></g><g transform="translate(210.8 124.8) rotate(-12)"><path d="M-4.6 0v12.9a4.6 2.7 0 0 0 9.2 0v-12.9z" fill="#4046de"/><path d="M1.5 0v15.4a4.6 2.7 0 0 0 3.1 -2.4v-12.9z" fill="#2e2bac" opacity=".62"/><ellipse cx="0" cy="0" rx="4.6" ry="2.7" fill="#555ff0"/></g><g transform="translate(223.9 113.4) rotate(-12)"><path d="M-3.8 0v19.4a3.8 2.3 0 0 0 7.7 0v-19.4z" fill="#4047de"/><path d="M1.2 0v21.4a3.8 2.3 0 0 0 2.6 -2.0v-19.4z" fill="#2d2bab" opacity=".62"/><ellipse cx="0" cy="0" rx="3.8" ry="2.3" fill="#5461f1"/></g><g transform="translate(235.8 102.1) rotate(-12)"><path d="M-4.3 0v26.1a4.3 2.5 0 0 0 8.6 0v-26.1z" fill="#3f48df"/><path d="M1.4 0v28.4a4.3 2.5 0 0 0 2.9 -2.3v-26.1z" fill="#2d2bab" opacity=".62"/><ellipse cx="0" cy="0" rx="4.3" ry="2.5" fill="#5461f1"/></g><g transform="translate(247.3 94.6) rotate(-12)"><path d="M-4.7 0v27.6a4.7 2.8 0 0 0 9.4 0v-27.6z" fill="#4145dd"/><path d="M1.5 0v30.1a4.7 2.8 0 0 0 3.2 -2.5v-27.6z" fill="#2f2bad" opacity=".62"/><ellipse cx="0" cy="0" rx="4.7" ry="2.8" fill="#555df0"/></g><g transform="translate(261.6 99.9) rotate(-12)"><path d="M-3.6 0v15.4a3.6 2.1 0 0 0 7.1 0v-15.4z" fill="#4047de"/><path d="M1.1 0v17.3a3.6 2.1 0 0 0 2.4 -1.9v-15.4z" fill="#2e2bab" opacity=".62"/><ellipse cx="0" cy="0" rx="3.6" ry="2.1" fill="#5460f0"/></g><g transform="translate(271.1 92.6) rotate(-12)"><path d="M-3.6 0v20.2a3.6 2.1 0 0 0 7.3 0v-20.2z" fill="#4047de"/><path d="M1.2 0v22.2a3.6 2.1 0 0 0 2.5 -1.9v-20.2z" fill="#2e2bab" opacity=".62"/><ellipse cx="0" cy="0" rx="3.6" ry="2.1" fill="#5460f0"/></g><g transform="translate(281.9 90.8) rotate(-12)"><path d="M-4.3 0v15.7a4.3 2.5 0 0 0 8.7 0v-15.7z" fill="#4046de"/><path d="M1.4 0v18.0a4.3 2.5 0 0 0 2.9 -2.3v-15.7z" fill="#2e2bac" opacity=".62"/><ellipse cx="0" cy="0" rx="4.3" ry="2.5" fill="#555ff0"/></g><g transform="translate(294.5 90.5) rotate(-12)"><path d="M-4.1 0v11.3a4.1 2.4 0 0 0 8.2 0v-11.3z" fill="#3f48df"/><path d="M1.3 0v13.5a4.1 2.4 0 0 0 2.8 -2.2v-11.3z" fill="#2d2bab" opacity=".62"/><ellipse cx="0" cy="0" rx="4.1" ry="2.4" fill="#5461f1"/></g><g transform="translate(304.2 80.4) rotate(-12)"><path d="M-4.5 0v18.3a4.5 2.7 0 0 0 9.1 0v-18.3z" fill="#3e49df"/><path d="M1.5 0v20.7a4.5 2.7 0 0 0 3.1 -2.4v-18.3z" fill="#2c2caa" opacity=".62"/><ellipse cx="0" cy="0" rx="4.5" ry="2.7" fill="#5363f1"/></g><g transform="translate(313.5 83.4) rotate(-12)"><path d="M-4.3 0v11.4a4.3 2.5 0 0 0 8.5 0v-11.4z" fill="#3c4be0"/><path d="M1.4 0v13.7a4.3 2.5 0 0 0 2.9 -2.3v-11.4z" fill="#2b2ca8" opacity=".62"/><ellipse cx="0" cy="0" rx="4.3" ry="2.5" fill="#5267f2"/></g><g transform="translate(326.0 78.2) rotate(-12)"><path d="M-3.8 0v10.1a3.8 2.2 0 0 0 7.6 0v-10.1z" fill="#3d4be0"/><path d="M1.2 0v12.1a3.8 2.2 0 0 0 2.6 -2.0v-10.1z" fill="#2b2ca8" opacity=".62"/><ellipse cx="0" cy="0" rx="3.8" ry="2.2" fill="#5267f2"/></g><g transform="translate(338.8 57.1) rotate(-12)"><path d="M-4.7 0v26.2a4.7 2.8 0 0 0 9.4 0v-26.2z" fill="#3d4ae0"/><path d="M1.5 0v28.7a4.7 2.8 0 0 0 3.2 -2.5v-26.2z" fill="#2c2ca9" opacity=".62"/><ellipse cx="0" cy="0" rx="4.7" ry="2.8" fill="#5265f1"/></g><g transform="translate(211.4 134.6) rotate(-12)"><path d="M-4.7 0v8.4a4.7 2.7 0 0 0 9.3 0v-8.4z" fill="#4046de"/><path d="M1.5 0v10.9a4.7 2.7 0 0 0 3.2 -2.5v-8.4z" fill="#2e2bac" opacity=".62"/><ellipse cx="0" cy="0" rx="4.7" ry="2.7" fill="#555ff0"/></g><g transform="translate(224.8 125.6) rotate(-12)"><path d="M-4.9 0v14.0a4.9 2.9 0 0 0 9.9 0v-14.0z" fill="#4047de"/><path d="M1.6 0v16.6a4.9 2.9 0 0 0 3.4 -2.6v-14.0z" fill="#2e2bab" opacity=".62"/><ellipse cx="0" cy="0" rx="4.9" ry="2.9" fill="#5461f0"/></g><g transform="translate(236.4 118.4) rotate(-12)"><path d="M-4.2 0v14.2a4.2 2.4 0 0 0 8.3 0v-14.2z" fill="#4047de"/><path d="M1.3 0v16.4a4.2 2.4 0 0 0 2.8 -2.2v-14.2z" fill="#2e2bab" opacity=".62"/><ellipse cx="0" cy="0" rx="4.2" ry="2.4" fill="#5460f0"/></g><g transform="translate(248.4 120.4) rotate(-12)"><path d="M-4.1 0v8.7a4.1 2.4 0 0 0 8.1 0v-8.7z" fill="#3d4ae0"/><path d="M1.3 0v10.9a4.1 2.4 0 0 0 2.8 -2.1v-8.7z" fill="#2b2ca8" opacity=".62"/><ellipse cx="0" cy="0" rx="4.1" ry="2.4" fill="#5266f2"/></g><g transform="translate(258.8 112.3) rotate(-12)"><path d="M-4.3 0v10.7a4.3 2.5 0 0 0 8.5 0v-10.7z" fill="#3d4ae0"/><path d="M1.4 0v12.9a4.3 2.5 0 0 0 2.9 -2.3v-10.7z" fill="#2b2ca8" opacity=".62"/><ellipse cx="0" cy="0" rx="4.3" ry="2.5" fill="#5266f2"/></g><g transform="translate(270.1 109.5) rotate(-12)"><path d="M-4.8 0v9.2a4.8 2.8 0 0 0 9.6 0v-9.2z" fill="#3d4ae0"/><path d="M1.5 0v11.7a4.8 2.8 0 0 0 3.3 -2.5v-9.2z" fill="#2b2ca8" opacity=".62"/><ellipse cx="0" cy="0" rx="4.8" ry="2.8" fill="#5266f2"/></g><g transform="translate(283.6 101.1) rotate(-12)"><path d="M-4.0 0v11.7a4.0 2.3 0 0 0 7.9 0v-11.7z" fill="#3b4ce1"/><path d="M1.3 0v13.8a4.0 2.3 0 0 0 2.7 -2.1v-11.7z" fill="#2a2ca7" opacity=".62"/><ellipse cx="0" cy="0" rx="4.0" ry="2.3" fill="#5169f2"/></g><g transform="translate(296.8 97.9) rotate(-12)"><path d="M-3.8 0v8.2a3.8 2.2 0 0 0 7.5 0v-8.2z" fill="#3b4ce1"/><path d="M1.2 0v10.2a3.8 2.2 0 0 0 2.6 -2.0v-8.2z" fill="#2a2ca7" opacity=".62"/><ellipse cx="0" cy="0" rx="3.8" ry="2.2" fill="#5169f2"/></g><g transform="translate(308.2 80.3) rotate(-12)"><path d="M-5.0 0v21.6a5.0 2.9 0 0 0 10.0 0v-21.6z" fill="#3d4be0"/><path d="M1.6 0v24.3a5.0 2.9 0 0 0 3.4 -2.7v-21.6z" fill="#2b2ca8" opacity=".62"/><ellipse cx="0" cy="0" rx="5.0" ry="2.9" fill="#5266f2"/></g><g transform="translate(321.4 84.2) rotate(-12)"><path d="M-4.5 0v10.5a4.5 2.6 0 0 0 8.9 0v-10.5z" fill="#3d4ae0"/><path d="M1.4 0v12.8a4.5 2.6 0 0 0 3.0 -2.4v-10.5z" fill="#2b2ca8" opacity=".62"/><ellipse cx="0" cy="0" rx="4.5" ry="2.6" fill="#5266f2"/></g><g transform="translate(333.2 62.1) rotate(-12)"><path d="M-4.7 0v27.5a4.7 2.8 0 0 0 9.4 0v-27.5z" fill="#3b4de1"/><path d="M1.5 0v30.0a4.7 2.8 0 0 0 3.2 -2.5v-27.5z" fill="#292da6" opacity=".62"/><ellipse cx="0" cy="0" rx="4.7" ry="2.8" fill="#506af3"/></g><g transform="translate(205.6 126.9) rotate(-12)"><path d="M-5.1 0v26.8a5.1 3.0 0 0 0 10.2 0v-26.8z" fill="#3e49df"/><path d="M1.6 0v29.5a5.1 3.0 0 0 0 3.5 -2.7v-26.8z" fill="#2c2ca9" opacity=".62"/><ellipse cx="0" cy="0" rx="5.1" ry="3.0" fill="#5364f1"/></g><g transform="translate(220.3 131.6) rotate(-12)"><path d="M-4.9 0v16.0a4.9 2.9 0 0 0 9.8 0v-16.0z" fill="#3e49df"/><path d="M1.6 0v18.6a4.9 2.9 0 0 0 3.3 -2.6v-16.0z" fill="#2c2caa" opacity=".62"/><ellipse cx="0" cy="0" rx="4.9" ry="2.9" fill="#5363f1"/></g><g transform="translate(233.0 132.7) rotate(-12)"><path d="M-4.6 0v8.9a4.6 2.7 0 0 0 9.2 0v-8.9z" fill="#3e49df"/><path d="M1.5 0v11.3a4.6 2.7 0 0 0 3.1 -2.4v-8.9z" fill="#2c2ca9" opacity=".62"/><ellipse cx="0" cy="0" rx="4.6" ry="2.7" fill="#5364f1"/></g><g transform="translate(244.4 113.6) rotate(-12)"><path d="M-5.4 0v22.7a5.4 3.2 0 0 0 10.8 0v-22.7z" fill="#3c4be0"/><path d="M1.7 0v25.6a5.4 3.2 0 0 0 3.7 -2.8v-22.7z" fill="#2b2ca8" opacity=".62"/><ellipse cx="0" cy="0" rx="5.4" ry="3.2" fill="#5267f2"/></g><g transform="translate(256.8 110.6) rotate(-12)"><path d="M-4.6 0v18.8a4.6 2.7 0 0 0 9.2 0v-18.8z" fill="#3d4ae0"/><path d="M1.5 0v21.2a4.6 2.7 0 0 0 3.1 -2.4v-18.8z" fill="#2c2ca9" opacity=".62"/><ellipse cx="0" cy="0" rx="4.6" ry="2.7" fill="#5265f1"/></g><g transform="translate(270.4 110.7) rotate(-12)"><path d="M-4.4 0v12.2a4.4 2.6 0 0 0 8.8 0v-12.2z" fill="#3d4ae0"/><path d="M1.4 0v14.5a4.4 2.6 0 0 0 3.0 -2.3v-12.2z" fill="#2b2ca8" opacity=".62"/><ellipse cx="0" cy="0" rx="4.4" ry="2.6" fill="#5266f2"/></g><g transform="translate(281.0 104.5) rotate(-12)"><path d="M-4.2 0v15.9a4.2 2.5 0 0 0 8.5 0v-15.9z" fill="#3d4ae0"/><path d="M1.4 0v18.1a4.2 2.5 0 0 0 2.9 -2.2v-15.9z" fill="#2b2ca8" opacity=".62"/><ellipse cx="0" cy="0" rx="4.2" ry="2.5" fill="#5266f2"/></g><g transform="translate(291.7 97.7) rotate(-12)"><path d="M-5.3 0v17.5a5.3 3.1 0 0 0 10.5 0v-17.5z" fill="#3b4ce1"/><path d="M1.7 0v20.3a5.3 3.1 0 0 0 3.6 -2.8v-17.5z" fill="#2a2ca7" opacity=".62"/><ellipse cx="0" cy="0" rx="5.3" ry="3.1" fill="#5169f2"/></g><g transform="translate(301.9 92.8) rotate(-12)"><path d="M-4.3 0v16.7a4.3 2.5 0 0 0 8.6 0v-16.7z" fill="#3d4ae0"/><path d="M1.4 0v18.9a4.3 2.5 0 0 0 2.9 -2.3v-16.7z" fill="#2b2ca8" opacity=".62"/><ellipse cx="0" cy="0" rx="4.3" ry="2.5" fill="#5266f2"/></g><g transform="translate(314.9 89.1) rotate(-12)"><path d="M-4.3 0v15.9a4.3 2.5 0 0 0 8.6 0v-15.9z" fill="#3b4de1"/><path d="M1.4 0v18.2a4.3 2.5 0 0 0 2.9 -2.3v-15.9z" fill="#292da6" opacity=".62"/><ellipse cx="0" cy="0" rx="4.3" ry="2.5" fill="#506af3"/></g><g transform="translate(325.6 70.1) rotate(-12)"><path d="M-5.0 0v28.9a5.0 3.0 0 0 0 10.1 0v-28.9z" fill="#3a4ee2"/><path d="M1.6 0v31.6a5.0 3.0 0 0 0 3.4 -2.7v-28.9z" fill="#282da5" opacity=".62"/><ellipse cx="0" cy="0" rx="5.0" ry="3.0" fill="#4f6cf3"/></g><g transform="translate(338.3 81.0) rotate(-12)"><path d="M-4.7 0v14.5a4.7 2.7 0 0 0 9.3 0v-14.5z" fill="#3b4de1"/><path d="M1.5 0v17.0a4.7 2.7 0 0 0 3.2 -2.5v-14.5z" fill="#292da6" opacity=".62"/><ellipse cx="0" cy="0" rx="4.7" ry="2.7" fill="#506af3"/></g><g transform="translate(217.4 131.1) rotate(-12)"><path d="M-4.5 0v23.0a4.5 2.6 0 0 0 9.0 0v-23.0z" fill="#3f48df"/><path d="M1.4 0v25.4a4.5 2.6 0 0 0 3.1 -2.4v-23.0z" fill="#2d2baa" opacity=".62"/><ellipse cx="0" cy="0" rx="4.5" ry="2.6" fill="#5462f1"/></g><g transform="translate(228.8 116.0) rotate(-12)"><path d="M-5.6 0v32.1a5.6 3.3 0 0 0 11.1 0v-32.1z" fill="#3d4be0"/><path d="M1.8 0v35.0a5.6 3.3 0 0 0 3.8 -2.9v-32.1z" fill="#2b2ca8" opacity=".62"/><ellipse cx="0" cy="0" rx="5.6" ry="3.3" fill="#5266f2"/></g><g transform="translate(243.3 121.3) rotate(-12)"><path d="M-4.7 0v22.6a4.7 2.7 0 0 0 9.3 0v-22.6z" fill="#3b4ce1"/><path d="M1.5 0v25.1a4.7 2.7 0 0 0 3.2 -2.5v-22.6z" fill="#2a2ca7" opacity=".62"/><ellipse cx="0" cy="0" rx="4.7" ry="2.7" fill="#5169f2"/></g><g transform="translate(256.3 111.4) rotate(-12)"><path d="M-4.3 0v26.2a4.3 2.5 0 0 0 8.5 0v-26.2z" fill="#3c4ce1"/><path d="M1.4 0v28.4a4.3 2.5 0 0 0 2.9 -2.3v-26.2z" fill="#2a2ca7" opacity=".62"/><ellipse cx="0" cy="0" rx="4.3" ry="2.5" fill="#5168f2"/></g><g transform="translate(272.9 107.2) rotate(-12)"><path d="M-4.4 0v23.3a4.4 2.6 0 0 0 8.8 0v-23.3z" fill="#3d4be0"/><path d="M1.4 0v25.6a4.4 2.6 0 0 0 3.0 -2.3v-23.3z" fill="#2b2ca8" opacity=".62"/><ellipse cx="0" cy="0" rx="4.4" ry="2.6" fill="#5266f2"/></g><g transform="translate(285.3 111.5) rotate(-12)"><path d="M-5.0 0v11.3a5.0 2.9 0 0 0 9.9 0v-11.3z" fill="#3a4ee2"/><path d="M1.6 0v14.0a5.0 2.9 0 0 0 3.4 -2.6v-11.3z" fill="#282da5" opacity=".62"/><ellipse cx="0" cy="0" rx="5.0" ry="2.9" fill="#4f6cf3"/></g><g transform="translate(299.4 101.3) rotate(-12)"><path d="M-5.5 0v16.9a5.5 3.3 0 0 0 11.1 0v-16.9z" fill="#384fe2"/><path d="M1.8 0v19.8a5.5 3.3 0 0 0 3.8 -2.9v-16.9z" fill="#272da4" opacity=".62"/><ellipse cx="0" cy="0" rx="5.5" ry="3.3" fill="#4f6ef4"/></g><g transform="translate(312.0 82.3) rotate(-12)"><path d="M-5.6 0v29.8a5.6 3.3 0 0 0 11.3 0v-29.8z" fill="#394fe2"/><path d="M1.8 0v32.8a5.6 3.3 0 0 0 3.8 -3.0v-29.8z" fill="#282da4" opacity=".62"/><ellipse cx="0" cy="0" rx="5.6" ry="3.3" fill="#4f6ef3"/></g><g transform="translate(324.0 94.2) rotate(-12)"><path d="M-5.1 0v12.0a5.1 3.0 0 0 0 10.1 0v-12.0z" fill="#394ee2"/><path d="M1.6 0v14.7a5.1 3.0 0 0 0 3.4 -2.7v-12.0z" fill="#282da5" opacity=".62"/><ellipse cx="0" cy="0" rx="5.1" ry="3.0" fill="#4f6cf3"/></g><g transform="translate(336.5 93.8) rotate(-12)"><path d="M-4.7 0v8.8a4.7 2.8 0 0 0 9.4 0v-8.8z" fill="#3751e3"/><path d="M1.5 0v11.3a4.7 2.8 0 0 0 3.2 -2.5v-8.8z" fill="#262ea3" opacity=".62"/><ellipse cx="0" cy="0" rx="4.7" ry="2.8" fill="#4d71f4"/></g><g transform="translate(236.4 125.8) rotate(-12)"><path d="M-4.9 0v25.7a4.9 2.9 0 0 0 9.7 0v-25.7z" fill="#3c4be0"/><path d="M1.6 0v28.3a4.9 2.9 0 0 0 3.3 -2.6v-25.7z" fill="#2b2ca8" opacity=".62"/><ellipse cx="0" cy="0" rx="4.9" ry="2.9" fill="#5167f2"/></g><g transform="translate(267.3 126.7) rotate(-12)"><path d="M-4.7 0v13.0a4.7 2.8 0 0 0 9.4 0v-13.0z" fill="#3b4de1"/><path d="M1.5 0v15.5a4.7 2.8 0 0 0 3.2 -2.5v-13.0z" fill="#292da6" opacity=".62"/><ellipse cx="0" cy="0" rx="4.7" ry="2.8" fill="#506af3"/></g><g transform="translate(279.8 112.0) rotate(-12)"><path d="M-5.7 0v21.8a5.7 3.3 0 0 0 11.4 0v-21.8z" fill="#3850e3"/><path d="M1.8 0v24.8a5.7 3.3 0 0 0 3.9 -3.0v-21.8z" fill="#272da3" opacity=".62"/><ellipse cx="0" cy="0" rx="5.7" ry="3.3" fill="#4e70f4"/></g><g transform="translate(293.6 118.0) rotate(-12)"><path d="M-5.5 0v10.2a5.5 3.2 0 0 0 11.0 0v-10.2z" fill="#3751e3"/><path d="M1.8 0v13.1a5.5 3.2 0 0 0 3.7 -2.9v-10.2z" fill="#262ea2" opacity=".62"/><ellipse cx="0" cy="0" rx="5.5" ry="3.2" fill="#4d72f4"/></g><g transform="translate(305.9 110.5) rotate(-12)"><path d="M-4.7 0v10.2a4.7 2.8 0 0 0 9.5 0v-10.2z" fill="#3652e4"/><path d="M1.5 0v12.7a4.7 2.8 0 0 0 3.2 -2.5v-10.2z" fill="#252ea1" opacity=".62"/><ellipse cx="0" cy="0" rx="4.7" ry="2.8" fill="#4c74f5"/></g><g transform="translate(319.9 88.9) rotate(-12)"><path d="M-5.2 0v28.0a5.2 3.1 0 0 0 10.5 0v-28.0z" fill="#3652e4"/><path d="M1.7 0v30.8a5.2 3.1 0 0 0 3.6 -2.8v-28.0z" fill="#252ea2" opacity=".62"/><ellipse cx="0" cy="0" rx="5.2" ry="3.1" fill="#4d73f5"/></g><g transform="translate(335.8 97.0) rotate(-12)"><path d="M-5.9 0v12.5a5.9 3.4 0 0 0 11.7 0v-12.5z" fill="#3553e4"/><path d="M1.9 0v15.6a5.9 3.4 0 0 0 4.0 -3.1v-12.5z" fill="#242ea1" opacity=".62"/><ellipse cx="0" cy="0" rx="5.9" ry="3.4" fill="#4c75f5"/></g><g transform="translate(254.3 122.6) rotate(-12)"><path d="M-5.2 0v30.0a5.2 3.1 0 0 0 10.4 0v-30.0z" fill="#3a4de1"/><path d="M1.7 0v32.8a5.2 3.1 0 0 0 3.5 -2.7v-30.0z" fill="#292da6" opacity=".62"/><ellipse cx="0" cy="0" rx="5.2" ry="3.1" fill="#506af3"/></g><g transform="translate(272.1 129.7) rotate(-12)"><path d="M-5.0 0v13.2a5.0 2.9 0 0 0 10.0 0v-13.2z" fill="#3850e3"/><path d="M1.6 0v15.9a5.0 2.9 0 0 0 3.4 -2.6v-13.2z" fill="#262da3" opacity=".62"/><ellipse cx="0" cy="0" rx="5.0" ry="2.9" fill="#4e70f4"/></g><g transform="translate(286.4 104.8) rotate(-12)"><path d="M-5.4 0v33.4a5.4 3.2 0 0 0 10.8 0v-33.4z" fill="#3850e3"/><path d="M1.7 0v36.2a5.4 3.2 0 0 0 3.7 -2.9v-33.4z" fill="#272da4" opacity=".62"/><ellipse cx="0" cy="0" rx="5.4" ry="3.2" fill="#4e6ff4"/></g><g transform="translate(303.8 107.1) rotate(-12)"><path d="M-5.1 0v22.8a5.1 3.0 0 0 0 10.1 0v-22.8z" fill="#3553e4"/><path d="M1.6 0v25.4a5.1 3.0 0 0 0 3.4 -2.7v-22.8z" fill="#242ea1" opacity=".62"/><ellipse cx="0" cy="0" rx="5.1" ry="3.0" fill="#4c75f5"/></g><g transform="translate(321.5 109.1) rotate(-12)"><path d="M-5.8 0v14.3a5.8 3.4 0 0 0 11.6 0v-14.3z" fill="#3553e4"/><path d="M1.8 0v17.4a5.8 3.4 0 0 0 3.9 -3.1v-14.3z" fill="#242ea1" opacity=".62"/><ellipse cx="0" cy="0" rx="5.8" ry="3.4" fill="#4c75f5"/></g><g transform="translate(338.3 101.3) rotate(-12)"><path d="M-6.4 0v12.8a6.4 3.8 0 0 0 12.8 0v-12.8z" fill="#3454e5"/><path d="M2.0 0v16.2a6.4 3.8 0 0 0 4.4 -3.4v-12.8z" fill="#232ea0" opacity=".62"/><ellipse cx="0" cy="0" rx="6.4" ry="3.8" fill="#4b77f6"/></g><g transform="translate(258.6 134.0) rotate(-12)"><path d="M-5.7 0v23.5a5.7 3.3 0 0 0 11.3 0v-23.5z" fill="#3652e4"/><path d="M1.8 0v26.5a5.7 3.3 0 0 0 3.8 -3.0v-23.5z" fill="#252ea2" opacity=".62"/><ellipse cx="0" cy="0" rx="5.7" ry="3.3" fill="#4c73f5"/></g><g transform="translate(276.1 120.1) rotate(-12)"><path d="M-5.2 0v30.1a5.2 3.1 0 0 0 10.5 0v-30.1z" fill="#3652e4"/><path d="M1.7 0v32.9a5.2 3.1 0 0 0 3.6 -2.8v-30.1z" fill="#252ea2" opacity=".62"/><ellipse cx="0" cy="0" rx="5.2" ry="3.1" fill="#4d73f5"/></g><g transform="translate(293.4 115.2) rotate(-12)"><path d="M-6.3 0v28.5a6.3 3.7 0 0 0 12.5 0v-28.5z" fill="#3553e4"/><path d="M2.0 0v31.8a6.3 3.7 0 0 0 4.3 -3.3v-28.5z" fill="#242ea1" opacity=".62"/><ellipse cx="0" cy="0" rx="6.3" ry="3.7" fill="#4c75f5"/></g><g transform="translate(310.5 115.7) rotate(-12)"><path d="M-6.4 0v19.4a6.4 3.8 0 0 0 12.9 0v-19.4z" fill="#3355e5"/><path d="M2.1 0v22.8a6.4 3.8 0 0 0 4.4 -3.4v-19.4z" fill="#232f9f" opacity=".62"/><ellipse cx="0" cy="0" rx="6.4" ry="3.8" fill="#4a79f6"/></g><g transform="translate(329.3 106.2) rotate(-12)"><path d="M-7.0 0v20.2a7.0 4.1 0 0 0 14.0 0v-20.2z" fill="#3455e5"/><path d="M2.2 0v24.0a7.0 4.1 0 0 0 4.8 -3.7v-20.2z" fill="#232ea0" opacity=".62"/><ellipse cx="0" cy="0" rx="7.0" ry="4.1" fill="#4b77f6"/></g><g transform="translate(260.3 133.6) rotate(-12)"><path d="M-6.1 0v30.7a6.1 3.6 0 0 0 12.3 0v-30.7z" fill="#3652e4"/><path d="M2.0 0v33.9a6.1 3.6 0 0 0 4.2 -3.2v-30.7z" fill="#252ea2" opacity=".62"/><ellipse cx="0" cy="0" rx="6.1" ry="3.6" fill="#4c73f5"/></g><g transform="translate(277.0 129.4) rotate(-12)"><path d="M-7.3 0v27.0a7.3 4.3 0 0 0 14.6 0v-27.0z" fill="#3356e6"/><path d="M2.3 0v30.9a7.3 4.3 0 0 0 5.0 -3.9v-27.0z" fill="#222f9f" opacity=".62"/><ellipse cx="0" cy="0" rx="7.3" ry="4.3" fill="#4a79f6"/></g><g transform="translate(317.3 128.3) rotate(-12)"><path d="M-6.6 0v12.5a6.6 3.9 0 0 0 13.3 0v-12.5z" fill="#305ae8"/><path d="M2.1 0v16.1a6.6 3.9 0 0 0 4.5 -3.5v-12.5z" fill="#20309c" opacity=".62"/><ellipse cx="0" cy="0" rx="6.6" ry="3.9" fill="#4880f8"/></g><g transform="translate(337.3 116.5) rotate(-12)"><path d="M-5.8 0v15.7a5.8 3.4 0 0 0 11.5 0v-15.7z" fill="#3059e7"/><path d="M1.8 0v18.7a5.8 3.4 0 0 0 3.9 -3.1v-15.7z" fill="#202f9c" opacity=".62"/><ellipse cx="0" cy="0" rx="5.8" ry="3.4" fill="#487ff7"/></g><g transform="translate(284.2 118.1) rotate(-12)"><path d="M-7.2 0v44.4a7.2 4.3 0 0 0 14.5 0v-44.4z" fill="#3059e7"/><path d="M2.3 0v48.2a7.2 4.3 0 0 0 4.9 -3.8v-44.4z" fill="#202f9c" opacity=".62"/><ellipse cx="0" cy="0" rx="7.2" ry="4.3" fill="#487ff7"/></g><g transform="translate(301.2 123.6) rotate(-12)"><path d="M-6.1 0v31.0a6.1 3.6 0 0 0 12.3 0v-31.0z" fill="#3059e7"/><path d="M2.0 0v34.2a6.1 3.6 0 0 0 4.2 -3.2v-31.0z" fill="#202f9c" opacity=".62"/><ellipse cx="0" cy="0" rx="6.1" ry="3.6" fill="#487ef7"/></g><g transform="translate(320.6 115.6) rotate(-12)"><path d="M-7.7 0v33.1a7.7 4.5 0 0 0 15.4 0v-33.1z" fill="#305ae8"/><path d="M2.5 0v37.2a7.7 4.5 0 0 0 5.2 -4.1v-33.1z" fill="#20309c" opacity=".62"/><ellipse cx="0" cy="0" rx="7.7" ry="4.5" fill="#4880f8"/></g><g transform="translate(340.7 124.7) rotate(-12)"><path d="M-7.9 0v14.6a7.9 4.6 0 0 0 15.7 0v-14.6z" fill="#305ae8"/><path d="M2.5 0v18.8a7.9 4.6 0 0 0 5.3 -4.2v-14.6z" fill="#20309c" opacity=".62"/><ellipse cx="0" cy="0" rx="7.9" ry="4.6" fill="#4880f8"/></g><g transform="translate(337.9 122.4) rotate(-12)"><path d="M-7.8 0v36.9a7.8 4.6 0 0 0 15.6 0v-36.9z" fill="#305ae8"/><path d="M2.5 0v41.1a7.8 4.6 0 0 0 5.3 -4.1v-36.9z" fill="#20309c" opacity=".62"/><ellipse cx="0" cy="0" rx="7.8" ry="4.6" fill="#4880f8"/></g><g transform="translate(310.5 131.9) rotate(-12)"><path d="M-9.7 0v51.3a9.7 5.7 0 0 0 19.4 0v-51.3z" fill="#305ae8"/><path d="M3.1 0v56.4a9.7 5.7 0 0 0 6.6 -5.1v-51.3z" fill="#20309c" opacity=".62"/><ellipse cx="0" cy="0" rx="9.7" ry="5.7" fill="#4880f8"/></g><path d="M196.0 108.0l1.300 5" stroke="#c9b8f5" stroke-width=".7" opacity=".55"/><path d="M219.0 100.0l1.300 5" stroke="#c9b8f5" stroke-width=".7" opacity=".55"/><path d="M262.0 84.0l1.300 5" stroke="#c9b8f5" stroke-width=".7" opacity=".55"/><path d="M283.0 74.0l1.300 5" stroke="#c9b8f5" stroke-width=".7" opacity=".55"/><path d="M302.0 64.0l1.300 5" stroke="#c9b8f5" stroke-width=".7" opacity=".55"/></svg><div class="abs" style="left:17.400px;top:17.700px;width:115px;height:17px;border-radius:3px;background:#5852dc"></div><svg style="left:24.200px;top:21.400px" width="10" height="10" viewBox="0 0 10 10" fill="none" stroke="#fff" stroke-width=".9" stroke-linecap="round" stroke-linejoin="round"><circle cx="5" cy="5" r="4.400"/><path d="M3.300 5.200l1.200 1.200 2.300-2.500"/></svg><div class="t " style="left:39.10px;top:22.90px;font-size:8.00px;color:#f6f5ff;letter-spacing:.1px"><span style="-webkit-text-stroke:.12px">This month</span> <span class="b">+15% Profit</span></div><div class="t " style="left:17.40px;top:82.60px;font-size:13.00px;color:#fff;letter-spacing:-.03px">Hey, <span class="b">David McMichael</span></div><div class="t " style="left:17.40px;top:104.30px;font-size:8.85px;color:#eae8ff">Aenean vel libero id metus sollicitudin</div></div>
<div class="card" style="left:407.9px;top:17.0px;width:150.7px;height:134.9px;background:#f7d2e0"><div class="abs" style="left:-.6px;top:.4px;width:151.500px;height:135px"><div class="t " style="left:17.80px;top:19.00px;font-size:8.50px;color:#2f3a4c;letter-spacing:.19px">Subscriptions</div><div class="t " style="left:17.80px;top:36.90px;font-size:14.40px;color:#1f2a3d;-webkit-text-stroke:.32px;letter-spacing:-.04px">78,298</div><div class="t " style="left:69.60px;top:43.30px;font-size:7.20px;color:#2a3446;-webkit-text-stroke:.2px">-12%</div><div class="ibox" style="left:106.400px;top:21px;width:28.100px;height:27.700px;background:#fff"></div><svg style="left:114.100px;top:29.300px" width="11.800" height="10" viewBox="0 0 13 11" fill="none" stroke="#ff6692" stroke-width="1" stroke-linejoin="round" stroke-linecap="round"><path d="M5.600 1.100Q6.500 .7 7.400 1.100L11.300 2.800Q12.200 3.300 11.300 3.800L7.400 5.500Q6.500 5.900 5.600 5.500L1.700 3.800Q.8 3.300 1.700 2.800Z"/><path d="M1.200 5.400L5.600 7.500Q6.500 7.900 7.400 7.500L11.800 5.400" opacity=".85"/><path d="M1.200 7.500L5.600 9.600Q6.500 10 7.400 9.600L11.800 7.500" opacity=".7"/></svg><svg style="left:0;top:0" width="151.500" height="135" viewBox="0 0 151.500 135"><rect x="17.4" y="77.7" width="5.200" height="30.9" rx="2.600" fill="#fae3eb"/><rect x="17.4" y="106.1" width="5.200" height="10.6" rx="1.300" fill="#fff"/><rect x="35.4" y="68.5" width="5.200" height="30.9" rx="2.600" fill="#fae3eb"/><rect x="35.4" y="96.9" width="5.200" height="19.8" rx="1.300" fill="#fff"/><rect x="53.7" y="73.8" width="5.200" height="30.9" rx="2.600" fill="#fae3eb"/><rect x="53.7" y="102.2" width="5.200" height="14.5" rx="1.300" fill="#fff"/><rect x="72.5" y="70.2" width="5.200" height="30.9" rx="2.600" fill="#fae3eb"/><rect x="72.5" y="98.6" width="5.200" height="18.1" rx="1.300" fill="#fff"/><rect x="91.0" y="66.6" width="5.200" height="30.9" rx="2.600" fill="#fae3eb"/><rect x="91.0" y="95.0" width="5.200" height="21.7" rx="1.300" fill="#fff"/><rect x="109.4" y="72.9" width="5.200" height="30.9" rx="2.600" fill="#fae3eb"/><rect x="109.4" y="101.3" width="5.200" height="15.4" rx="1.300" fill="#fff"/><rect x="127.9" y="71.0" width="5.200" height="30.9" rx="2.600" fill="#fae3eb"/><rect x="127.9" y="99.4" width="5.200" height="17.3" rx="1.300" fill="#fff"/></svg></div></div>
<div class="card" style="left:576.3px;top:17.0px;width:150.6px;height:134.9px;background:#c8f4f4"><div class="abs" style="left:0;top:.4px;width:151px;height:135px"><div class="t " style="left:17.20px;top:19.00px;font-size:8.50px;color:#2f3a4c;letter-spacing:.19px">Users</div><div class="t " style="left:17.20px;top:36.90px;font-size:14.40px;color:#1f2a3d;-webkit-text-stroke:.32px;letter-spacing:-.49px">14,872</div><div class="t " style="left:65.60px;top:43.10px;font-size:7.50px;color:#2a3446;-webkit-text-stroke:.2px">+6.4%</div><div class="ibox" style="left:106px;top:21.100px;width:28px;height:27.600px;background:#fff"></div><svg style="left:114.200px;top:29.300px" width="11" height="11" viewBox="0 0 11 11" fill="none" stroke="#3dd6d0" stroke-width=".72" stroke-linejoin="round"><path d="M5 .9A4.700 4.700 0 1 0 10.100 6H5.500a.5 .5 0 0 1-.5-.5z"/><path d="M6.600 .8a3.900 3.900 0 0 1 3.600 3.600" opacity="0"/></svg><svg style="left:0;top:0" width="151" height="135" viewBox="0 0 151 135"><path d="M-0.20 117.40 C11.09 103.17 18.61 92.10 29.90 92.10 C41.37 92.10 49.02 131.10 60.50 131.10 C71.79 131.10 79.31 86.80 90.60 86.80 C101.70 86.80 109.10 111.40 120.20 111.40 C131.68 111.40 139.32 105.62 150.80 98.20 L151 135 L0 135Z" fill="#a6eeed"/><path d="M-0.20 117.40 C11.09 103.17 18.61 92.10 29.90 92.10 C41.37 92.10 49.02 131.10 60.50 131.10 C71.79 131.10 79.31 86.80 90.60 86.80 C101.70 86.80 109.10 111.40 120.20 111.40 C131.68 111.40 139.32 105.62 150.80 98.20" fill="none" stroke="#16cdc7" stroke-width="1.150"/></svg></div></div>
<div class="card" style="left:72.3px;top:169.4px;width:430.3px;height:296.6px;"><div class="t " style="left:16.90px;top:20.40px;font-size:11.00px;color:#28334a;-webkit-text-stroke:.24px;letter-spacing:-.13px">Revenue Forecast</div><div class="t " style="left:16.90px;top:37.20px;font-size:8.80px;color:#9aa4b1">Overview of Profit</div><div class="abs" style="left:343.7px;top:30.0px;width:6px;height:6px;border-radius:3px;background:#635bff"></div><div class="t " style="left:354.30px;top:30.00px;font-size:8.20px;color:#6d7888">2024</div><div class="abs" style="left:384.3px;top:30.0px;width:6px;height:6px;border-radius:3px;background:#ff6692"></div><div class="t " style="left:394.70px;top:30.00px;font-size:8.20px;color:#6d7888">2023</div><svg style="left:0;top:0" width="430.300" height="296" viewBox="0 0 430.300 296"><path d="M35.4 74.0H409.5" stroke="#f5f6f9" stroke-width="1"/><path d="M35.4 105.7H409.5" stroke="#f5f6f9" stroke-width="1"/><path d="M35.4 137.4H409.5" stroke="#f5f6f9" stroke-width="1"/><path d="M35.4 169.1H409.5" stroke="#f5f6f9" stroke-width="1"/><path d="M35.4 200.9H409.5" stroke="#f5f6f9" stroke-width="1"/><path d="M35.4 74.0V200.9" stroke="#f6f7fa" stroke-width="1"/><path d="M77.0 74.0V200.9" stroke="#f6f7fa" stroke-width="1"/><path d="M118.5 74.0V200.9" stroke="#f6f7fa" stroke-width="1"/><path d="M160.1 74.0V200.9" stroke="#f6f7fa" stroke-width="1"/><path d="M201.7 74.0V200.9" stroke="#f6f7fa" stroke-width="1"/><path d="M243.2 74.0V200.9" stroke="#f6f7fa" stroke-width="1"/><path d="M284.8 74.0V200.9" stroke="#f6f7fa" stroke-width="1"/><path d="M326.4 74.0V200.9" stroke="#f6f7fa" stroke-width="1"/><path d="M367.9 74.0V200.9" stroke="#f6f7fa" stroke-width="1"/><path d="M409.5 74.0V200.9" stroke="#f6f7fa" stroke-width="1"/><path d="M53.08 137.40V122.10a3.100 3.100 0 0 1 6.200 0V137.40z" fill="#635bff"/><path d="M53.08 137.40V178.80a3.100 3.100 0 0 0 6.200 0V137.40z" fill="#ff6692"/><path d="M94.65 137.40V98.00a3.100 3.100 0 0 1 6.200 0V137.40z" fill="#635bff"/><path d="M94.65 137.40V151.80a3.100 3.100 0 0 0 6.200 0V137.40z" fill="#ff6692"/><path d="M136.22 137.40V125.20a3.100 3.100 0 0 1 6.200 0V137.40z" fill="#635bff"/><path d="M136.22 137.40V174.40a3.100 3.100 0 0 0 6.200 0V137.40z" fill="#ff6692"/><path d="M177.78 137.40V83.90a3.100 3.100 0 0 1 6.200 0V137.40z" fill="#635bff"/><path d="M177.78 137.40V158.30a3.100 3.100 0 0 0 6.200 0V137.40z" fill="#ff6692"/><path d="M219.35 137.40V108.10a3.100 3.100 0 0 1 6.200 0V137.40z" fill="#635bff"/><path d="M219.35 137.40V170.90a3.100 3.100 0 0 0 6.200 0V137.40z" fill="#ff6692"/><path d="M260.92 137.40V98.20a3.100 3.100 0 0 1 6.200 0V137.40z" fill="#635bff"/><path d="M260.92 137.40V164.30a3.100 3.100 0 0 0 6.200 0V137.40z" fill="#ff6692"/><path d="M302.48 137.40V106.20a3.100 3.100 0 0 1 6.200 0V137.40z" fill="#635bff"/><path d="M302.48 137.40V150.10a3.100 3.100 0 0 0 6.200 0V137.40z" fill="#ff6692"/><path d="M344.05 137.40V120.60a3.100 3.100 0 0 1 6.200 0V137.40z" fill="#635bff"/><path d="M344.05 137.40V167.90a3.100 3.100 0 0 0 6.200 0V137.40z" fill="#ff6692"/><path d="M385.62 137.40V101.50a3.100 3.100 0 0 1 6.200 0V137.40z" fill="#635bff"/><path d="M385.62 137.40V155.10a3.100 3.100 0 0 0 6.200 0V137.40z" fill="#ff6692"/></svg><div class="t" style="right:400.3px;top:70.5px;font-size:7.100px;color:#bcc3cc">4.0</div><div class="t" style="right:400.3px;top:102.2px;font-size:7.100px;color:#bcc3cc">2.0</div><div class="t" style="right:400.3px;top:133.9px;font-size:7.100px;color:#bcc3cc">0.0</div><div class="t" style="right:400.3px;top:165.6px;font-size:7.100px;color:#bcc3cc">-2.0</div><div class="t" style="right:400.3px;top:197.4px;font-size:7.100px;color:#bcc3cc">-4.0</div><div class="t" style="left:36.2px;top:210.2px;width:40px;text-align:center;font-size:8px;color:#bdc4cd">Jan</div><div class="t" style="left:77.8px;top:210.2px;width:40px;text-align:center;font-size:8px;color:#bdc4cd">Feb</div><div class="t" style="left:119.3px;top:210.2px;width:40px;text-align:center;font-size:8px;color:#bdc4cd">Mar</div><div class="t" style="left:160.9px;top:210.2px;width:40px;text-align:center;font-size:8px;color:#bdc4cd">Apr</div><div class="t" style="left:202.5px;top:210.2px;width:40px;text-align:center;font-size:8px;color:#bdc4cd">May</div><div class="t" style="left:244.0px;top:210.2px;width:40px;text-align:center;font-size:8px;color:#bdc4cd">Jun</div><div class="t" style="left:285.6px;top:210.2px;width:40px;text-align:center;font-size:8px;color:#bdc4cd">July</div><div class="t" style="left:327.1px;top:210.2px;width:40px;text-align:center;font-size:8px;color:#bdc4cd">Aug</div><div class="t" style="left:368.7px;top:210.2px;width:40px;text-align:center;font-size:8px;color:#bdc4cd">Sep</div><div class="ibox" style="left:17.4px;top:246.9px;width:27px;height:27px;background:#ecf2fb;border-radius:6px"></div><svg style="left:24.0px;top:254.5px" width="13" height="13" viewBox="0 0 13 13" fill="none" stroke="#263244" stroke-width="1.050" stroke-linejoin="round"><path d="M5.600 2.300A5 5 0 1 0 11 7.600H7.100A1.500 1.500 0 0 1 5.600 6.100z"/><path d="M7.400 .9a4.100 4.100 0 0 1 4.800 4.800H8.600A1.200 1.200 0 0 1 7.400 4.500z"/></svg><div class="t " style="left:51.60px;top:249.90px;font-size:8.20px;color:#a3acb8">Total</div><div class="t " style="left:51.60px;top:263.40px;font-size:11.00px;color:#3a4454;letter-spacing:0;-webkit-text-stroke:.15px">$96,640</div><div class="ibox" style="left:154.5px;top:246.9px;width:27px;height:27px;background:#dddbff;border-radius:6px"></div><svg style="left:161.7px;top:253.9px" width="13" height="13" viewBox="0 0 13 13" fill="none" stroke="#635bff" stroke-width=".9" stroke-linecap="round"><circle cx="6.500" cy="6.500" r="5.900"/><path d="M8.300 4.900c-.2-.8-.9-1.200-1.800-1.200-1 0-1.800 .5-1.800 1.400 0 2 3.700 .8 3.700 2.900 0 .9-.8 1.400-1.900 1.400-1 0-1.700-.5-1.900-1.300" stroke-width=".95"/></svg><div class="t " style="left:189.50px;top:249.90px;font-size:8.20px;color:#a3acb8">Profit</div><div class="t " style="left:189.50px;top:263.40px;font-size:11.00px;color:#3a4454;letter-spacing:0;-webkit-text-stroke:.15px">$48,820</div><div class="ibox" style="left:292.4px;top:246.9px;width:27px;height:27px;background:#ffd6e0;border-radius:6px"></div><svg style="left:301.4px;top:254.6px" width="9.700" height="12" viewBox="0 0 10.500 13" fill="none" stroke="#ff6692" stroke-width=".95"><ellipse cx="5.200" cy="2.600" rx="4.600" ry="2"/><path d="M.6 2.600v7.800c0 1.100 2.100 2 4.600 2s4.700-.9 4.700-2V2.600"/><path d="M.6 6.500c0 1.100 2.100 2 4.600 2s4.700-.9 4.700-2"/></svg><div class="t " style="left:326.90px;top:249.90px;font-size:8.20px;color:#a3acb8">Earnings</div><div class="t " style="left:326.90px;top:263.40px;font-size:11.00px;color:#3a4454;letter-spacing:0;-webkit-text-stroke:.15px">$48,820</div></div>
<div class="card" style="left:520.2px;top:169.4px;width:206.6px;height:291.5px;"><div class="t " style="left:17.40px;top:20.40px;font-size:11.00px;color:#28334a;-webkit-text-stroke:.24px;letter-spacing:.04px">Annual Profit</div><div class="abs" style="left:17.4px;top:45.3px;width:172.500px;height:107.400px;border-radius:5.500px;background:#dfdcff;overflow:hidden"><svg style="left:0;top:0" width="172.500" height="108" viewBox="0 0 172.500 108"><path d="M0.00 96.10 C10.73 79.22 17.88 66.10 28.60 66.10 C38.84 66.10 45.66 99.60 55.90 99.60 C67.19 99.60 74.71 85.20 86.00 85.20 C96.73 85.20 103.88 106.20 114.60 106.20 C125.66 106.20 133.04 72.10 144.10 72.10 C154.75 72.10 161.85 84.13 172.50 99.60 L172.500 108 L0 108Z" fill="#c7c3fd"/><path d="M0.00 96.10 C10.73 79.22 17.88 66.10 28.60 66.10 C38.84 66.10 45.66 99.60 55.90 99.60 C67.19 99.60 74.71 85.20 86.00 85.20 C96.73 85.20 103.88 106.20 114.60 106.20 C125.66 106.20 133.04 72.10 144.10 72.10 C154.75 72.10 161.85 84.13 172.50 99.60" fill="none" stroke="#635bff" stroke-width="1.150"/></svg></div><div class="t " style="left:30.50px;top:64.90px;font-size:8.20px;color:#5d697e">Conversion Rate</div><div class="t " style="left:140.80px;top:61.50px;font-size:13.00px;color:#28334a;-webkit-text-stroke:.26px;letter-spacing:-.4px">18.4%</div><div class="t " style="left:16.80px;top:170.30px;font-size:8.50px;color:#3a4657">Added to Cart</div><div class="t" style="right:17.4px;top:169.8px;font-size:9.100px;-webkit-text-stroke:.3px;color:#263143;letter-spacing:-0.27px">$21,120.70</div><div class="t " style="left:16.80px;top:184.70px;font-size:7.80px;color:#939eac">5 clicks</div><div class="t" style="right:17.3px;top:184.8px;font-size:7.600px;color:#36c76c;letter-spacing:-0.20px">+13.2%</div><div class="abs" style="left:17.4px;top:200.0px;width:172.500px;height:1px;background:#ebf0f6"></div><div class="t " style="left:16.80px;top:210.60px;font-size:8.50px;color:#3a4657">Reached to Checkout</div><div class="t" style="right:17.2px;top:210.1px;font-size:9.100px;-webkit-text-stroke:.3px;color:#263143;letter-spacing:-0.08px">$16,100.00</div><div class="t " style="left:16.80px;top:225.00px;font-size:7.80px;color:#939eac">12 clicks</div><div class="t" style="right:17.1px;top:225.1px;font-size:7.600px;color:#ff6692;letter-spacing:0.00px">-7.4%</div><div class="abs" style="left:17.4px;top:241.0px;width:172.500px;height:1px;background:#ebf0f6"></div><div class="t " style="left:16.80px;top:251.20px;font-size:8.50px;color:#3a4657">Added to Cart</div><div class="t" style="right:16.8px;top:250.7px;font-size:9.100px;-webkit-text-stroke:.3px;color:#263143;letter-spacing:0.25px">$6,400.50</div><div class="t " style="left:16.80px;top:265.60px;font-size:7.80px;color:#939eac">24 views</div><div class="t" style="right:17.1px;top:265.7px;font-size:7.600px;color:#36c76c;letter-spacing:0.00px">+9.3%</div></div>
<div class="card" style="left:72.3px;top:482.9px;width:206.0px;height:120.0px;"><div class="ibox" style="left:13.4px;top:14.4px;background:#ccf7f6"></div><svg style="left:20.5px;top:21.2px" width="13" height="13" viewBox="0 0 13 13" fill="none" stroke="#12dbd4" stroke-width="1.050" stroke-linejoin="round"><circle cx="6.500" cy="6.500" r="5.700"/><path d="M6.500 4.200l2.200 1.600-.8 2.600H5.100l-.8-2.600z"/><path d="M6.500 4.200V1.600M8.700 5.800l2.600-.8M7.900 8.400l1.600 2.200M5.100 8.400l-1.600 2.200M4.300 5.800l-2.600-.8"/></svg><div class="t " style="left:48.10px;top:22.90px;font-size:9.60px;color:#2b3649;-webkit-text-stroke:.2px;letter-spacing:.06px">New Customers</div><div class="t " style="left:13.40px;top:67.70px;font-size:8.80px;color:#232e40">New goals</div><div class="t" style="right:13.7px;top:67.7px;font-size:8.800px;color:#232e40">83%</div><div class="abs" style="left:13.4px;top:83.6px;width:179px;height:4.200px;border-radius:2.100px;background:#f0f4f9"><div style="width:83%;height:100%;border-radius:2.100px;background:#16e3dc"></div></div></div>
<div class="card" style="left:295.6px;top:482.9px;width:431.2px;height:120.0px;"><div class="t " style="left:17.80px;top:20.50px;font-size:11.00px;color:#28334a;-webkit-text-stroke:.24px;letter-spacing:-.05px">Weekly Scheduels</div><div class="abs" style="left:47.0px;top:53.8px;width:361px;height:1px;background:#f5f7fa"></div><div class="abs" style="left:47.0px;top:97.0px;width:361px;height:1px;background:#f5f7fa"></div><div class="t " style="left:24.40px;top:71.20px;font-size:7.80px;color:#b5bcc7">Sun</div><div class="abs" style="left:96.1px;top:63.0px;width:133.700px;height:24.200px;border-radius:12.100px;background:#635bff"></div><div class="t" style="left:95.5px;top:72.5px;width:134.500px;text-align:center;font-size:7.500px;-webkit-text-stroke:.25px;letter-spacing:-.02px;color:#fff">Sun: Meeting with Sunil</div></div>
</div></body></html>
